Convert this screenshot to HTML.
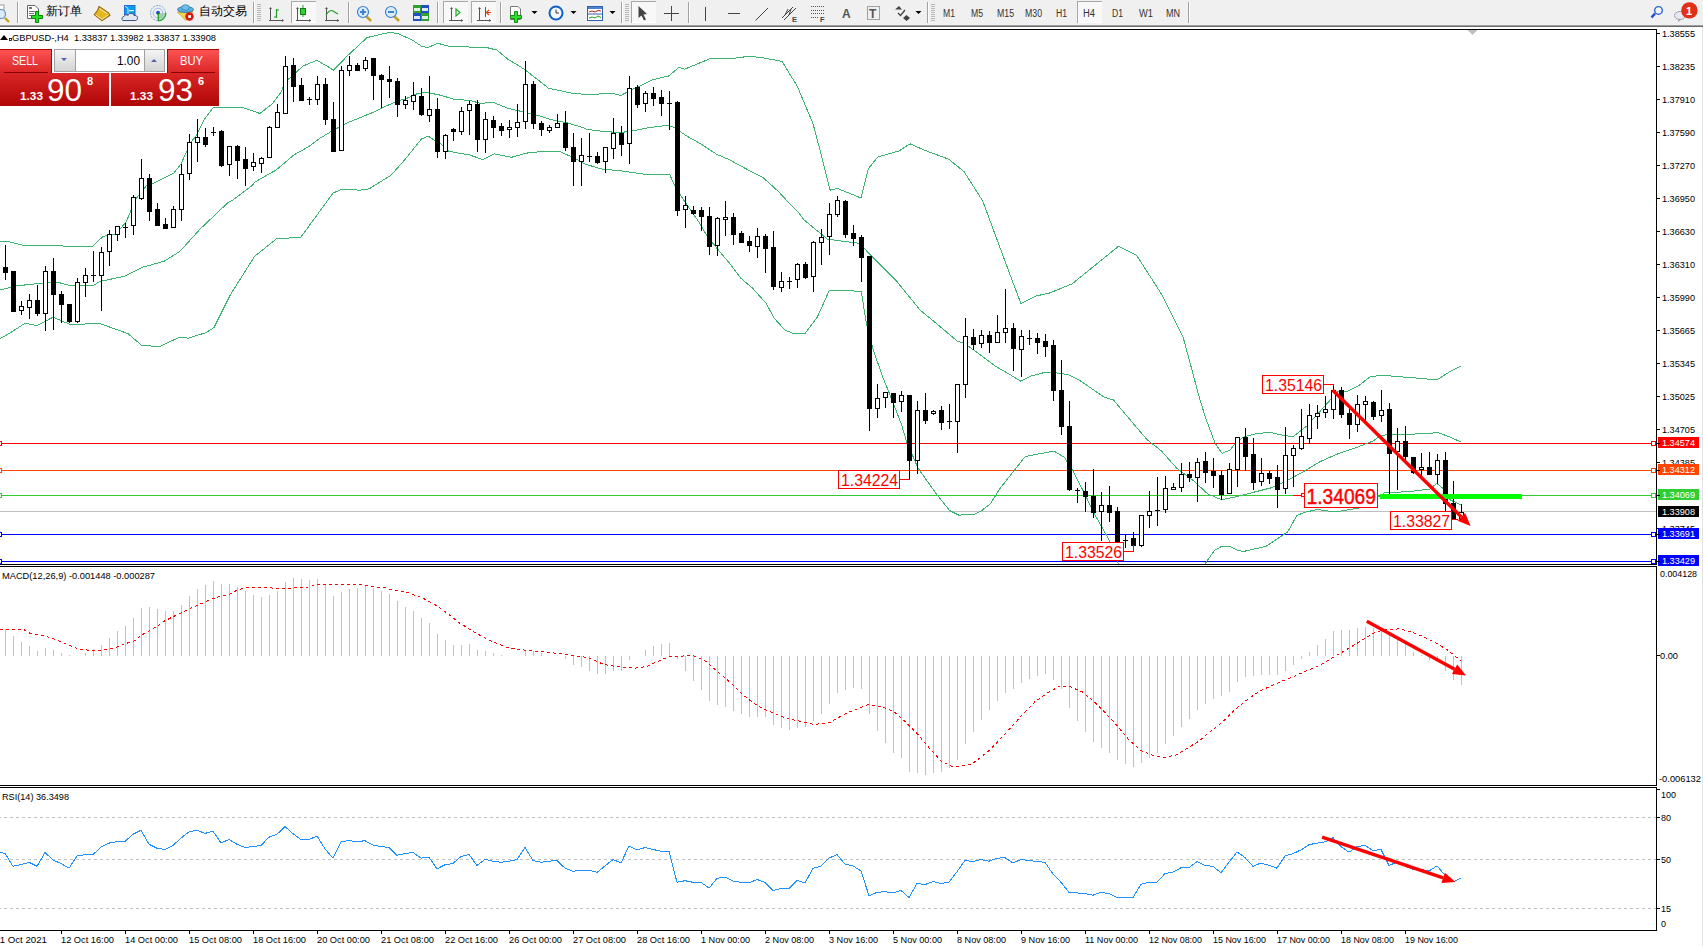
<!DOCTYPE html><html><head><meta charset="utf-8"><style>html,body{margin:0;padding:0;background:#fff;overflow:hidden}body{width:1703px;height:946px;position:relative}svg{position:absolute;left:0;top:0;display:block}text{font-family:"Liberation Sans", sans-serif}</style></head><body>
<svg width="1703" height="946" viewBox="0 0 1703 946">
<rect x="0" y="0" width="1703" height="946" fill="#ffffff" />
<g id="toolbar">
<rect x="0" y="0" width="1703" height="25" fill="#f0f0f0" />
<rect x="0" y="25" width="1703" height="1" fill="#a0a0a0" />
<rect x="0" y="26" width="1703" height="1" fill="#696969" />
<rect x="1702" y="27" width="1" height="919" fill="#e3e3e3" />
<rect x="-3" y="5" width="7" height="13" fill="#fff" stroke="#a09890" stroke-width="1"/>
<circle cx="1" cy="14" r="4.5" fill="#dcecf8" stroke="#6090d0" stroke-width="1.2"/>
<line x1="5" y1="18" x2="9" y2="22" stroke="#c8a020" stroke-width="2.4"/>
<rect x="17" y="2" width="1" height="21" fill="#a0a0a0"/><rect x="18" y="2" width="1" height="21" fill="#ffffff"/>
<path d="M27.5,5.5 H35 L38.5,9 V18.5 H27.5 Z" fill="#fff" stroke="#666" stroke-width="1"/>
<rect x="29" y="7" width="3" height="2" fill="#777"/><rect x="29" y="11" width="6" height="1" fill="#777"/><rect x="29" y="13" width="5" height="1" fill="#777"/><rect x="29" y="15" width="3" height="1" fill="#777"/>
<path d="M35.5,11.5 H38.5 V15.5 H42.5 V18.5 H38.5 V22.5 H35.5 V18.5 H31.5 V15.5 H35.5 Z" fill="#22dd22" stroke="#008800" stroke-width="1"/>
<text x="46" y="15.3" font-size="11.8" fill="#000">新订单</text>
<path d="M99,6.5 L108.5,12.8 L110,15.3 L102,20.6 L94.3,14.7 L97.5,10.5 Z" fill="#e5b820" stroke="#9a6410" stroke-width="1.1"/>
<path d="M95.5,14.8 L102,19.2 L108.5,14.8" fill="none" stroke="#f8e8a0" stroke-width="1"/>
<path d="M99.5,8.5 L107,13.5" fill="none" stroke="#fff6b0" stroke-width="1"/>
<rect x="124.5" y="5.5" width="10.5" height="9" fill="#0a9cf0" stroke="#2070d0" stroke-width="1"/>
<path d="M125,6 L128,8.5 V14" fill="none" stroke="#e8f6ff" stroke-width="0.9"/><rect x="129" y="10" width="5" height="1.2" fill="#e8f6ff"/>
<path d="M123,20.5 C121.5,20.5 121.5,16.5 124,16.5 C124.5,14.5 127,14 128,15.5 C129,12.5 133,12.5 134,15.5 C137,15 138.5,17.5 137,19.5 C136.5,20.5 136,20.5 135,20.5 Z" fill="#e4e8f0" stroke="#3a5088" stroke-width="1"/>
<path d="M158,13 L158,21 A8,8 0 0,0 166,13 Z" fill="#a8d8a0"/>
<circle cx="158" cy="13" r="7.5" fill="none" stroke="#7aa0dc" stroke-width="1" stroke-dasharray="2,1"/>
<circle cx="158" cy="13" r="4.8" fill="none" stroke="#9ab8e4" stroke-width="1"/>
<path d="M166,13 A8,8 0 0,1 158,21" fill="none" stroke="#30a040" stroke-width="1.2"/>
<circle cx="158" cy="12.7" r="2" fill="#2050c8"/>
<line x1="158.3" y1="13" x2="158.3" y2="21" stroke="#20a020" stroke-width="1.3"/>
<path d="M177.5,12 L193,11.5 L186,20.5 Z" fill="#f0d848" stroke="#c09820" stroke-width="0.8"/>
<ellipse cx="185.5" cy="9.5" rx="8" ry="3" fill="#58b0e0" stroke="#2878a8" stroke-width="0.9"/>
<ellipse cx="185.5" cy="7.5" rx="3.8" ry="2.8" fill="#70c0ec" stroke="#2878a8" stroke-width="0.7"/>
<circle cx="189.5" cy="16.5" r="4.2" fill="#d81a10"/><rect x="188.2" y="15.2" width="2.8" height="2.8" fill="#fff"/>
<text x="199" y="15.3" font-size="11.8" fill="#000">自动交易</text>
<rect x="253" y="2" width="1" height="21" fill="#a0a0a0"/><rect x="254" y="2" width="1" height="21" fill="#ffffff"/>
<rect x="257" y="4" width="4" height="1" fill="#b8b8b8"/>
<rect x="257" y="6" width="4" height="1" fill="#b8b8b8"/>
<rect x="257" y="8" width="4" height="1" fill="#b8b8b8"/>
<rect x="257" y="10" width="4" height="1" fill="#b8b8b8"/>
<rect x="257" y="12" width="4" height="1" fill="#b8b8b8"/>
<rect x="257" y="14" width="4" height="1" fill="#b8b8b8"/>
<rect x="257" y="16" width="4" height="1" fill="#b8b8b8"/>
<rect x="257" y="18" width="4" height="1" fill="#b8b8b8"/>
<rect x="257" y="20" width="4" height="1" fill="#b8b8b8"/>
<g fill="none" stroke="#555" stroke-width="1"><path d="M270.5,8 V21 M269,20.5 H283"/></g>
<path d="M269,9 L270.5,7 L272,9 Z M282,19 L284,20.5 L282,22 Z" fill="#555"/>
<path d="M276.5,9 V18 M276.5,10 H279 M274,17 H276.5" fill="none" stroke="#20a020" stroke-width="1.2"/>
<rect x="291" y="1" width="25" height="22" fill="#f8f8f8"/>
<rect x="291" y="1" width="25" height="1" fill="#a8a8a8"/>
<rect x="291" y="1" width="1" height="22" fill="#a8a8a8"/>
<rect x="292" y="22" width="24" height="1" fill="#ffffff"/>
<path d="M297.5,8 V21 M296,20.5 H311" fill="none" stroke="#555" stroke-width="1"/>
<path d="M296,9 L297.5,7 L299,9 Z M309,19 L311,20.5 L309,22 Z" fill="#555"/>
<rect x="302.5" y="5" width="1" height="12" fill="#20a020"/><rect x="300.5" y="8.5" width="5" height="6" fill="#30d030" stroke="#108010" stroke-width="1"/>
<path d="M326.5,8 V21 M325,20.5 H339" fill="none" stroke="#555" stroke-width="1"/>
<path d="M325,9 L326.5,7 L328,9 Z M337,19 L339,20.5 L337,22 Z" fill="#555"/>
<path d="M326,15 Q330,9 333,11 T338,14" fill="none" stroke="#20a020" stroke-width="1.2"/>
<rect x="348" y="2" width="1" height="21" fill="#a0a0a0"/><rect x="349" y="2" width="1" height="21" fill="#ffffff"/>
<line x1="366" y1="16" x2="371" y2="21" stroke="#c8a020" stroke-width="2.5"/>
<circle cx="363" cy="12" r="5.5" fill="#d8ecfa" stroke="#3c80d0" stroke-width="1.2"/>
<rect x="360" y="11" width="6" height="2" fill="#3c80d0"/>
<rect x="362" y="9" width="2" height="6" fill="#3c80d0"/>
<line x1="394" y1="16" x2="399" y2="21" stroke="#c8a020" stroke-width="2.5"/>
<circle cx="391" cy="12" r="5.5" fill="#d8ecfa" stroke="#3c80d0" stroke-width="1.2"/>
<rect x="388" y="11" width="6" height="2" fill="#3c80d0"/>
<rect x="413" y="5" width="8" height="8" fill="#30a030"/><rect x="421" y="5" width="8" height="8" fill="#2050c0"/><rect x="413" y="13" width="8" height="8" fill="#2050c0"/><rect x="421" y="13" width="8" height="8" fill="#30a030"/>
<rect x="414" y="8" width="6" height="3" fill="#e0f0e0"/><rect x="422" y="8" width="6" height="3" fill="#e0e8f8"/><rect x="414" y="16" width="6" height="3" fill="#e0e8f8"/><rect x="422" y="16" width="6" height="3" fill="#e0f0e0"/>
<rect x="437" y="2" width="1" height="21" fill="#a0a0a0"/><rect x="438" y="2" width="1" height="21" fill="#ffffff"/>
<rect x="443" y="1" width="25" height="22" fill="#f8f8f8"/>
<rect x="443" y="1" width="25" height="1" fill="#a8a8a8"/>
<rect x="443" y="1" width="1" height="22" fill="#a8a8a8"/>
<rect x="444" y="22" width="24" height="1" fill="#ffffff"/>
<path d="M451.5,8 V21 M449,20.5 H463" fill="none" stroke="#555" stroke-width="1"/><path d="M450,9 L451.5,7 L453,9 Z M461,19 L463,20.5 L461,22 Z" fill="#555"/>
<path d="M456,9 L460,12.5 L456,16 Z" fill="none" stroke="#20b020" stroke-width="1.2"/>
<rect x="471" y="1" width="25" height="22" fill="#f8f8f8"/>
<rect x="471" y="1" width="25" height="1" fill="#a8a8a8"/>
<rect x="471" y="1" width="1" height="22" fill="#a8a8a8"/>
<rect x="472" y="22" width="24" height="1" fill="#ffffff"/>
<path d="M479.5,8 V21 M477,20.5 H491" fill="none" stroke="#555" stroke-width="1"/><path d="M478,9 L479.5,7 L481,9 Z M489,19 L491,20.5 L489,22 Z" fill="#555"/>
<rect x="485" y="7" width="1" height="10" fill="#2060c0"/><path d="M491,12.5 H486.5 M489,10 L486.5,12.5 L489,15" fill="none" stroke="#e04010" stroke-width="1.2"/>
<rect x="500" y="2" width="1" height="21" fill="#a0a0a0"/><rect x="501" y="2" width="1" height="21" fill="#ffffff"/>
<path d="M510.5,6.5 H518 L520.5,9 V19.5 H510.5 Z" fill="#fff" stroke="#777" stroke-width="1"/>
<path d="M514.5,11.5 H517.5 V15.5 H521.5 V18.5 H517.5 V22.5 H514.5 V18.5 H510.5 V15.5 H514.5 Z" fill="#30e030" stroke="#109010" stroke-width="1"/>
<polygon points="531.5,11 537.5,11 534.5,14" fill="#000"/>
<circle cx="556" cy="13" r="7.5" fill="#1060c8"/><circle cx="556" cy="13" r="5.5" fill="#f4f8fc"/><path d="M556,9.5 V13 H559" fill="none" stroke="#333" stroke-width="1"/>
<polygon points="570.5,11 576.5,11 573.5,14" fill="#000"/>
<rect x="587.5" y="6.5" width="15" height="14" fill="#fff" stroke="#3060b0" stroke-width="1"/><rect x="588" y="7" width="14" height="2" fill="#5080d0"/><rect x="588" y="13.5" width="14" height="1" fill="#3060b0"/>
<path d="M589,12 L592,11 L595,12 L598,10.5 L601,11" fill="none" stroke="#b02020" stroke-width="1"/><path d="M589,18 L592,17 L595,18 L598,16 L601,17.5" fill="none" stroke="#20a020" stroke-width="1"/>
<polygon points="609.5,11 615.5,11 612.5,14" fill="#000"/>
<rect x="621" y="2" width="1" height="21" fill="#a0a0a0"/><rect x="622" y="2" width="1" height="21" fill="#ffffff"/>
<rect x="625" y="4" width="4" height="1" fill="#b8b8b8"/>
<rect x="625" y="6" width="4" height="1" fill="#b8b8b8"/>
<rect x="625" y="8" width="4" height="1" fill="#b8b8b8"/>
<rect x="625" y="10" width="4" height="1" fill="#b8b8b8"/>
<rect x="625" y="12" width="4" height="1" fill="#b8b8b8"/>
<rect x="625" y="14" width="4" height="1" fill="#b8b8b8"/>
<rect x="625" y="16" width="4" height="1" fill="#b8b8b8"/>
<rect x="625" y="18" width="4" height="1" fill="#b8b8b8"/>
<rect x="625" y="20" width="4" height="1" fill="#b8b8b8"/>
<rect x="631" y="1" width="25" height="22" fill="#f8f8f8"/>
<rect x="631" y="1" width="25" height="1" fill="#a8a8a8"/>
<rect x="631" y="1" width="1" height="22" fill="#a8a8a8"/>
<rect x="632" y="22" width="24" height="1" fill="#ffffff"/>
<path d="M638.5,6 L638.5,18 L641.5,15.5 L644,20.5 L646,19.5 L643.5,14.5 L647,14 Z" fill="#444"/>
<path d="M664,13.5 H679 M671.5,6 V21" fill="none" stroke="#444" stroke-width="1"/>
<rect x="688" y="2" width="1" height="21" fill="#a0a0a0"/><rect x="689" y="2" width="1" height="21" fill="#ffffff"/>
<rect x="705" y="7" width="1" height="14" fill="#444"/>
<rect x="728" y="13" width="12" height="1" fill="#444"/>
<line x1="755.5" y1="20.5" x2="768" y2="8" stroke="#444" stroke-width="1"/>
<path d="M782,18 L793,7 M784,20 L796,8 M785,15 L788,9 M789,15 L791,9" fill="none" stroke="#444" stroke-width="1"/>
<text x="792" y="22" font-size="7.5" font-weight="bold" fill="#444">E</text>
<path d="M811,6.5 H824 M811,10.5 H824 M811,13.5 H824 M811,17.5 H819" fill="none" stroke="#555" stroke-width="1" stroke-dasharray="1,1"/>
<text x="820" y="22" font-size="7.5" font-weight="bold" fill="#444">F</text>
<text x="842" y="18" font-size="12" font-weight="bold" fill="#555">A</text>
<rect x="867.5" y="6.5" width="12" height="13" fill="none" stroke="#555" stroke-width="1" stroke-dasharray="1,1"/>
<text x="869" y="18" font-size="12" font-weight="bold" fill="#555">T</text>
<path d="M895,9.5 L899,6 L902,9.5 Z M903,18 L906.5,15 L910,18 L906.5,21 Z" fill="#444"/><path d="M898,13 L900.5,15.5 L905,10" fill="none" stroke="#444" stroke-width="1.3"/>
<polygon points="915.5,11 921.5,11 918.5,14" fill="#000"/>
<rect x="927" y="2" width="1" height="21" fill="#a0a0a0"/><rect x="928" y="2" width="1" height="21" fill="#ffffff"/>
<rect x="931" y="4" width="4" height="1" fill="#b8b8b8"/>
<rect x="931" y="6" width="4" height="1" fill="#b8b8b8"/>
<rect x="931" y="8" width="4" height="1" fill="#b8b8b8"/>
<rect x="931" y="10" width="4" height="1" fill="#b8b8b8"/>
<rect x="931" y="12" width="4" height="1" fill="#b8b8b8"/>
<rect x="931" y="14" width="4" height="1" fill="#b8b8b8"/>
<rect x="931" y="16" width="4" height="1" fill="#b8b8b8"/>
<rect x="931" y="18" width="4" height="1" fill="#b8b8b8"/>
<rect x="931" y="20" width="4" height="1" fill="#b8b8b8"/>
<rect x="1077" y="1" width="25" height="22" fill="#f8f8f8"/>
<rect x="1077" y="1" width="25" height="1" fill="#a8a8a8"/>
<rect x="1077" y="1" width="1" height="22" fill="#a8a8a8"/>
<rect x="1078" y="22" width="24" height="1" fill="#ffffff"/>
<text x="943" y="17" font-size="10" fill="#333" textLength="12" lengthAdjust="spacingAndGlyphs">M1</text>
<text x="971" y="17" font-size="10" fill="#333" textLength="12" lengthAdjust="spacingAndGlyphs">M5</text>
<text x="997" y="17" font-size="10" fill="#333" textLength="17" lengthAdjust="spacingAndGlyphs">M15</text>
<text x="1025" y="17" font-size="10" fill="#333" textLength="17" lengthAdjust="spacingAndGlyphs">M30</text>
<text x="1056" y="17" font-size="10" fill="#333" textLength="11" lengthAdjust="spacingAndGlyphs">H1</text>
<text x="1083" y="17" font-size="10" fill="#333" textLength="12" lengthAdjust="spacingAndGlyphs">H4</text>
<text x="1112" y="17" font-size="10" fill="#333" textLength="11" lengthAdjust="spacingAndGlyphs">D1</text>
<text x="1139" y="17" font-size="10" fill="#333" textLength="14" lengthAdjust="spacingAndGlyphs">W1</text>
<text x="1166" y="17" font-size="10" fill="#333" textLength="14" lengthAdjust="spacingAndGlyphs">MN</text>
<rect x="1188" y="2" width="1" height="21" fill="#a0a0a0"/><rect x="1189" y="2" width="1" height="21" fill="#ffffff"/>
<line x1="1655" y1="13.5" x2="1651.5" y2="17.5" stroke="#2050d0" stroke-width="2.5"/>
<circle cx="1658.5" cy="10.4" r="3.8" fill="#f4f6ff" stroke="#2860d8" stroke-width="1.4"/>
<ellipse cx="1680" cy="15.5" rx="5.5" ry="4" fill="#e8e8f0" stroke="#a0a0a8" stroke-width="1"/><path d="M1678,19 L1678.5,22 L1681,19.5" fill="#a0a0a8"/>
<circle cx="1689.4" cy="10.4" r="8.2" fill="#e03018"/>
<text x="1689" y="15" font-size="11" font-weight="bold" fill="#fff" text-anchor="middle">1</text>
</g>
<g shape-rendering="crispEdges">
<rect x="0" y="29" width="1657" height="1" fill="#000" />
<rect x="1656" y="29" width="1" height="536" fill="#000" />
<rect x="0" y="564" width="1657" height="1" fill="#000" />
<rect x="0" y="566" width="1657" height="1" fill="#000" />
<rect x="1656" y="566" width="1" height="220" fill="#000" />
<rect x="0" y="785" width="1657" height="1" fill="#000" />
<rect x="0" y="787" width="1657" height="1" fill="#000" />
<rect x="1656" y="787" width="1" height="144" fill="#000" />
<rect x="0" y="930" width="1657" height="1" fill="#000" />
</g>
<defs><clipPath id="cm"><rect x="0" y="30" width="1656" height="534"/></clipPath><clipPath id="cmacd"><rect x="0" y="567" width="1656" height="218"/></clipPath><clipPath id="crsi"><rect x="0" y="788" width="1656" height="142"/></clipPath></defs>
<rect x="1657" y="33" width="3" height="1" fill="#000" />
<text x="1662" y="37" font-size="9.6" fill="#000" text-anchor="start" font-weight="normal" textLength="33" lengthAdjust="spacingAndGlyphs" >1.38555</text>
<rect x="1657" y="66" width="3" height="1" fill="#000" />
<text x="1662" y="70" font-size="9.6" fill="#000" text-anchor="start" font-weight="normal" textLength="33" lengthAdjust="spacingAndGlyphs" >1.38235</text>
<rect x="1657" y="99" width="3" height="1" fill="#000" />
<text x="1662" y="103" font-size="9.6" fill="#000" text-anchor="start" font-weight="normal" textLength="33" lengthAdjust="spacingAndGlyphs" >1.37910</text>
<rect x="1657" y="132" width="3" height="1" fill="#000" />
<text x="1662" y="136" font-size="9.6" fill="#000" text-anchor="start" font-weight="normal" textLength="33" lengthAdjust="spacingAndGlyphs" >1.37590</text>
<rect x="1657" y="165" width="3" height="1" fill="#000" />
<text x="1662" y="169" font-size="9.6" fill="#000" text-anchor="start" font-weight="normal" textLength="33" lengthAdjust="spacingAndGlyphs" >1.37270</text>
<rect x="1657" y="198" width="3" height="1" fill="#000" />
<text x="1662" y="202" font-size="9.6" fill="#000" text-anchor="start" font-weight="normal" textLength="33" lengthAdjust="spacingAndGlyphs" >1.36950</text>
<rect x="1657" y="231" width="3" height="1" fill="#000" />
<text x="1662" y="235" font-size="9.6" fill="#000" text-anchor="start" font-weight="normal" textLength="33" lengthAdjust="spacingAndGlyphs" >1.36630</text>
<rect x="1657" y="264" width="3" height="1" fill="#000" />
<text x="1662" y="268" font-size="9.6" fill="#000" text-anchor="start" font-weight="normal" textLength="33" lengthAdjust="spacingAndGlyphs" >1.36310</text>
<rect x="1657" y="297" width="3" height="1" fill="#000" />
<text x="1662" y="301" font-size="9.6" fill="#000" text-anchor="start" font-weight="normal" textLength="33" lengthAdjust="spacingAndGlyphs" >1.35990</text>
<rect x="1657" y="330" width="3" height="1" fill="#000" />
<text x="1662" y="334" font-size="9.6" fill="#000" text-anchor="start" font-weight="normal" textLength="33" lengthAdjust="spacingAndGlyphs" >1.35665</text>
<rect x="1657" y="363" width="3" height="1" fill="#000" />
<text x="1662" y="367" font-size="9.6" fill="#000" text-anchor="start" font-weight="normal" textLength="33" lengthAdjust="spacingAndGlyphs" >1.35345</text>
<rect x="1657" y="396" width="3" height="1" fill="#000" />
<text x="1662" y="400" font-size="9.6" fill="#000" text-anchor="start" font-weight="normal" textLength="33" lengthAdjust="spacingAndGlyphs" >1.35025</text>
<rect x="1657" y="429" width="3" height="1" fill="#000" />
<text x="1662" y="433" font-size="9.6" fill="#000" text-anchor="start" font-weight="normal" textLength="33" lengthAdjust="spacingAndGlyphs" >1.34705</text>
<rect x="1657" y="462" width="3" height="1" fill="#000" />
<text x="1662" y="466" font-size="9.6" fill="#000" text-anchor="start" font-weight="normal" textLength="33" lengthAdjust="spacingAndGlyphs" >1.34385</text>
<rect x="1657" y="495" width="3" height="1" fill="#000" />
<text x="1662" y="499" font-size="9.6" fill="#000" text-anchor="start" font-weight="normal" textLength="33" lengthAdjust="spacingAndGlyphs" >1.34065</text>
<rect x="1657" y="528" width="3" height="1" fill="#000" />
<text x="1662" y="532" font-size="9.6" fill="#000" text-anchor="start" font-weight="normal" textLength="33" lengthAdjust="spacingAndGlyphs" >1.33745</text>
<rect x="1657" y="561" width="3" height="1" fill="#000" />
<text x="1662" y="565" font-size="9.6" fill="#000" text-anchor="start" font-weight="normal" textLength="33" lengthAdjust="spacingAndGlyphs" >1.33425</text>
<g clip-path="url(#cm)">
<g shape-rendering="crispEdges">
<rect x="0" y="511" width="1656" height="1" fill="#c0c0c0" />
<rect x="0" y="443" width="1656" height="1" fill="#ff0000" />
<rect x="0" y="470" width="1656" height="1" fill="#ff4500" />
<rect x="0" y="495" width="1656" height="1" fill="#32cd32" />
<rect x="0" y="534" width="1656" height="1" fill="#0000ff" />
<rect x="0" y="561" width="1656" height="1" fill="#0000ff" />
</g>
<polyline points="0.0,241.0 8.0,241.5 26.0,246.0 50.0,245.0 75.0,247.0 93.0,246.0 103.0,236.4 116.0,234.0 126.0,222.0 130.0,213.0 135.0,200.0 147.0,185.0 154.0,183.0 174.0,173.0 177.0,169.0 181.0,164.0 191.0,142.0 196.0,136.0 204.0,120.0 213.0,107.7 233.0,107.6 240.0,107.0 245.0,108.4 260.0,113.5 272.0,104.0 281.0,92.4 285.0,82.0 291.0,77.0 303.0,66.0 317.0,60.3 328.0,66.7 333.5,70.2 347.0,56.2 367.0,37.6 377.5,35.1 389.0,32.5 398.0,33.4 400.0,34.5 413.0,40.4 421.6,46.3 428.0,47.6 437.7,43.3 450.7,46.6 486.0,47.4 497.0,50.1 508.0,59.3 524.0,69.0 548.8,88.4 559.6,90.6 572.7,93.3 588.0,94.6 611.6,93.3 621.0,95.5 630.0,90.4 640.0,86.0 652.0,79.9 669.0,75.9 678.6,67.5 684.8,69.1 711.0,58.3 729.5,58.9 748.0,56.4 760.0,57.3 782.0,61.3 797.5,86.7 813.0,123.7 822.0,157.7 830.0,190.1 837.6,188.5 861.0,198.0 868.5,168.5 877.7,157.0 899.0,150.9 910.0,143.8 924.0,150.0 948.7,159.2 964.0,171.6 982.7,200.9 1001.0,250.3 1012.0,280.0 1021.0,303.7 1036.0,296.0 1050.0,292.9 1072.0,283.9 1118.6,246.2 1136.6,255.2 1161.8,294.7 1183.3,337.8 1200.0,400.0 1206.0,419.0 1215.0,443.0 1222.0,453.3 1230.0,450.1 1236.5,441.9 1244.0,436.8 1257.0,433.6 1269.5,432.3 1280.0,434.6 1293.0,436.8 1307.0,425.8 1337.5,392.0 1347.6,391.1 1359.4,385.2 1369.6,377.1 1381.4,375.1 1400.0,376.8 1410.0,377.4 1436.8,380.0 1449.3,372.0 1461.0,365.9" fill="none" stroke="#3cb371" stroke-width="1" shape-rendering="crispEdges"/>
<polyline points="0.0,290.0 17.0,285.8 50.0,282.3 58.0,282.3 70.0,285.6 93.0,285.6 100.0,281.4 124.0,276.4 142.0,267.4 164.0,261.3 180.0,251.3 200.0,229.2 228.5,202.1 233.0,199.9 252.6,185.1 255.0,182.0 276.0,170.1 294.0,154.9 309.0,146.5 320.0,138.2 330.0,132.2 345.0,123.8 372.0,112.8 386.0,106.0 400.0,100.3 404.5,99.3 418.0,93.4 427.0,92.5 440.0,95.1 454.0,99.2 470.0,100.5 481.0,103.5 492.8,102.2 508.0,108.3 522.0,111.6 540.0,115.9 551.0,119.7 566.0,122.5 580.0,126.7 588.0,129.6 603.0,131.3 620.0,132.7 633.6,130.6 648.8,127.6 667.8,125.3 674.6,127.7 686.4,135.8 700.0,143.4 716.8,154.4 728.7,159.4 749.0,170.4 762.5,177.2 778.0,191.1 792.0,206.2 800.0,214.3 803.8,219.7 827.5,239.2 842.7,241.2 859.6,243.4 871.4,256.0 896.8,281.4 912.0,300.0 920.0,310.0 940.5,326.9 957.4,341.3 964.0,343.0 974.0,350.2 995.5,366.2 1007.3,373.0 1020.8,381.1 1031.0,376.0 1046.0,372.1 1054.6,372.6 1068.0,374.6 1080.0,380.6 1104.0,397.1 1113.5,400.0 1132.0,422.0 1147.4,440.0 1161.1,450.6 1177.0,468.5 1192.9,480.2 1207.7,493.9 1221.4,499.7 1235.1,497.1 1251.0,492.9 1272.1,487.6 1288.0,480.2 1307.0,469.6 1320.0,461.7 1336.0,454.5 1356.0,447.7 1373.0,441.0 1381.4,435.1 1389.5,434.9 1410.0,434.1 1430.0,433.7 1436.8,432.1 1448.7,436.6 1460.5,441.7" fill="none" stroke="#3cb371" stroke-width="1" shape-rendering="crispEdges"/>
<polyline points="0.0,338.7 10.0,333.0 25.0,323.3 37.0,325.6 53.0,317.2 70.0,324.4 100.0,323.6 128.0,333.6 142.0,345.7 160.0,346.3 180.0,337.0 188.0,338.2 206.0,332.6 214.0,327.6 230.5,294.5 254.6,256.3 276.7,238.7 300.8,237.3 333.0,193.1 341.0,189.5 360.0,190.1 369.0,188.9 375.8,184.6 391.0,175.3 404.5,160.1 421.4,139.0 428.2,136.1 432.0,138.7 440.0,143.2 449.0,151.4 469.0,154.8 482.7,159.5 494.5,153.9 511.4,157.3 526.6,153.1 544.0,151.3 559.0,151.3 572.7,157.2 584.6,163.9 601.5,169.0 620.0,170.7 643.7,174.1 669.5,174.1 674.6,185.6 681.4,196.6 700.0,223.7 707.0,235.9 720.6,252.8 730.7,264.6 740.8,278.2 752.7,288.3 766.2,303.5 774.6,318.7 784.8,329.9 792.0,333.0 805.5,333.0 817.4,316.9 829.2,290.7 842.7,290.2 861.3,291.5 866.4,323.7 872.9,348.9 883.0,377.6 893.2,403.0 901.6,424.9 906.6,441.6 918.0,468.2 937.0,494.8 949.8,510.7 958.7,515.1 973.9,514.5 981.5,510.7 990.4,503.7 1000.0,488.5 1025.2,456.5 1053.9,451.1 1064.5,457.5 1072.9,471.0 1084.7,493.8 1094.9,514.9 1100.5,524.7 1110.0,541.7 1118.1,563.4 1125.0,580.0 1160.0,600.0 1200.0,590.0 1205.0,564.0 1214.4,550.5 1221.5,546.4 1229.7,546.4 1237.9,550.5 1243.8,551.4 1266.0,546.3 1287.6,532.0 1297.0,515.3 1305.5,512.2 1317.2,509.4 1334.0,512.0 1345.0,510.4 1361.0,507.7 1384.5,492.9 1409.8,491.5 1430.0,489.0 1436.8,483.4 1443.6,489.0 1450.4,500.0 1461.0,505.0" fill="none" stroke="#3cb371" stroke-width="1" shape-rendering="crispEdges"/>
<g shape-rendering="crispEdges">
<rect x="5" y="245" width="1" height="35" fill="#000" />
<rect x="3" y="267" width="5" height="6" fill="#000" />
<rect x="13" y="271" width="1" height="41" fill="#000" />
<rect x="11" y="271" width="5" height="41" fill="#000" />
<rect x="21" y="301" width="1" height="14" fill="#000" />
<rect x="19" y="306" width="5" height="5" fill="#000" />
<rect x="20" y="307" width="3" height="3" fill="#fff" />
<rect x="29" y="294" width="1" height="25" fill="#000" />
<rect x="27" y="300" width="5" height="8" fill="#000" />
<rect x="28" y="301" width="3" height="6" fill="#fff" />
<rect x="37" y="285" width="1" height="31" fill="#000" />
<rect x="35" y="300" width="5" height="14" fill="#000" />
<rect x="45" y="266" width="1" height="65" fill="#000" />
<rect x="43" y="271" width="5" height="43" fill="#000" />
<rect x="44" y="272" width="3" height="41" fill="#fff" />
<rect x="53" y="258" width="1" height="72" fill="#000" />
<rect x="51" y="271" width="5" height="24" fill="#000" />
<rect x="61" y="291" width="1" height="32" fill="#000" />
<rect x="59" y="294" width="5" height="11" fill="#000" />
<rect x="69" y="304" width="1" height="19" fill="#000" />
<rect x="67" y="304" width="5" height="18" fill="#000" />
<rect x="77" y="278" width="1" height="45" fill="#000" />
<rect x="75" y="282" width="5" height="40" fill="#000" />
<rect x="76" y="283" width="3" height="38" fill="#fff" />
<rect x="85" y="268" width="1" height="29" fill="#000" />
<rect x="83" y="275" width="5" height="8" fill="#000" />
<rect x="84" y="276" width="3" height="6" fill="#fff" />
<rect x="93" y="251" width="1" height="31" fill="#000" />
<rect x="91" y="275" width="5" height="1" fill="#000" />
<rect x="101" y="247" width="1" height="64" fill="#000" />
<rect x="99" y="252" width="5" height="24" fill="#000" />
<rect x="100" y="253" width="3" height="22" fill="#fff" />
<rect x="109" y="230" width="1" height="36" fill="#000" />
<rect x="107" y="234" width="5" height="18" fill="#000" />
<rect x="108" y="235" width="3" height="16" fill="#fff" />
<rect x="117" y="226" width="1" height="15" fill="#000" />
<rect x="115" y="226" width="5" height="9" fill="#000" />
<rect x="116" y="227" width="3" height="7" fill="#fff" />
<rect x="125" y="223" width="1" height="15" fill="#000" />
<rect x="123" y="227" width="5" height="1" fill="#000" />
<rect x="133" y="195" width="1" height="40" fill="#000" />
<rect x="131" y="197" width="5" height="29" fill="#000" />
<rect x="132" y="198" width="3" height="27" fill="#fff" />
<rect x="141" y="159" width="1" height="41" fill="#000" />
<rect x="139" y="178" width="5" height="21" fill="#000" />
<rect x="140" y="179" width="3" height="19" fill="#fff" />
<rect x="149" y="174" width="1" height="47" fill="#000" />
<rect x="147" y="178" width="5" height="34" fill="#000" />
<rect x="157" y="203" width="1" height="23" fill="#000" />
<rect x="155" y="209" width="5" height="17" fill="#000" />
<rect x="165" y="218" width="1" height="11" fill="#000" />
<rect x="163" y="224" width="5" height="5" fill="#000" />
<rect x="173" y="206" width="1" height="22" fill="#000" />
<rect x="171" y="209" width="5" height="19" fill="#000" />
<rect x="172" y="210" width="3" height="17" fill="#fff" />
<rect x="181" y="164" width="1" height="57" fill="#000" />
<rect x="179" y="174" width="5" height="36" fill="#000" />
<rect x="180" y="175" width="3" height="34" fill="#fff" />
<rect x="189" y="134" width="1" height="46" fill="#000" />
<rect x="187" y="142" width="5" height="32" fill="#000" />
<rect x="188" y="143" width="3" height="30" fill="#fff" />
<rect x="197" y="119" width="1" height="43" fill="#000" />
<rect x="195" y="137" width="5" height="6" fill="#000" />
<rect x="196" y="138" width="3" height="4" fill="#fff" />
<rect x="205" y="128" width="1" height="19" fill="#000" />
<rect x="203" y="137" width="5" height="8" fill="#000" />
<rect x="213" y="127" width="1" height="9" fill="#000" />
<rect x="211" y="132" width="5" height="1" fill="#000" />
<rect x="221" y="130" width="1" height="37" fill="#000" />
<rect x="219" y="131" width="5" height="35" fill="#000" />
<rect x="229" y="146" width="1" height="30" fill="#000" />
<rect x="227" y="146" width="5" height="19" fill="#000" />
<rect x="228" y="147" width="3" height="17" fill="#fff" />
<rect x="237" y="145" width="1" height="34" fill="#000" />
<rect x="235" y="146" width="5" height="15" fill="#000" />
<rect x="245" y="147" width="1" height="39" fill="#000" />
<rect x="243" y="159" width="5" height="10" fill="#000" />
<rect x="253" y="153" width="1" height="18" fill="#000" />
<rect x="251" y="162" width="5" height="5" fill="#000" />
<rect x="252" y="163" width="3" height="3" fill="#fff" />
<rect x="261" y="157" width="1" height="16" fill="#000" />
<rect x="259" y="158" width="5" height="6" fill="#000" />
<rect x="260" y="159" width="3" height="4" fill="#fff" />
<rect x="269" y="126" width="1" height="32" fill="#000" />
<rect x="267" y="127" width="5" height="31" fill="#000" />
<rect x="268" y="128" width="3" height="29" fill="#fff" />
<rect x="277" y="104" width="1" height="24" fill="#000" />
<rect x="275" y="112" width="5" height="16" fill="#000" />
<rect x="276" y="113" width="3" height="14" fill="#fff" />
<rect x="285" y="56" width="1" height="58" fill="#000" />
<rect x="283" y="66" width="5" height="48" fill="#000" />
<rect x="284" y="67" width="3" height="46" fill="#fff" />
<rect x="293" y="58" width="1" height="44" fill="#000" />
<rect x="291" y="65" width="5" height="22" fill="#000" />
<rect x="301" y="78" width="1" height="23" fill="#000" />
<rect x="299" y="85" width="5" height="16" fill="#000" />
<rect x="309" y="97" width="1" height="8" fill="#000" />
<rect x="307" y="99" width="5" height="1" fill="#000" />
<rect x="317" y="76" width="1" height="29" fill="#000" />
<rect x="315" y="84" width="5" height="16" fill="#000" />
<rect x="316" y="85" width="3" height="14" fill="#fff" />
<rect x="325" y="78" width="1" height="47" fill="#000" />
<rect x="323" y="84" width="5" height="36" fill="#000" />
<rect x="333" y="102" width="1" height="50" fill="#000" />
<rect x="331" y="119" width="5" height="33" fill="#000" />
<rect x="341" y="66" width="1" height="85" fill="#000" />
<rect x="339" y="70" width="5" height="81" fill="#000" />
<rect x="340" y="71" width="3" height="79" fill="#fff" />
<rect x="349" y="56" width="1" height="20" fill="#000" />
<rect x="347" y="65" width="5" height="6" fill="#000" />
<rect x="348" y="66" width="3" height="4" fill="#fff" />
<rect x="357" y="63" width="1" height="8" fill="#000" />
<rect x="355" y="65" width="5" height="6" fill="#000" />
<rect x="365" y="57" width="1" height="14" fill="#000" />
<rect x="363" y="60" width="5" height="9" fill="#000" />
<rect x="364" y="61" width="3" height="7" fill="#fff" />
<rect x="373" y="58" width="1" height="42" fill="#000" />
<rect x="371" y="58" width="5" height="18" fill="#000" />
<rect x="381" y="74" width="1" height="34" fill="#000" />
<rect x="379" y="75" width="5" height="5" fill="#000" />
<rect x="389" y="66" width="1" height="32" fill="#000" />
<rect x="387" y="79" width="5" height="3" fill="#000" />
<rect x="397" y="78" width="1" height="39" fill="#000" />
<rect x="395" y="81" width="5" height="24" fill="#000" />
<rect x="405" y="96" width="1" height="13" fill="#000" />
<rect x="403" y="100" width="5" height="5" fill="#000" />
<rect x="404" y="101" width="3" height="3" fill="#fff" />
<rect x="413" y="82" width="1" height="28" fill="#000" />
<rect x="411" y="95" width="5" height="7" fill="#000" />
<rect x="412" y="96" width="3" height="5" fill="#fff" />
<rect x="421" y="88" width="1" height="28" fill="#000" />
<rect x="419" y="96" width="5" height="19" fill="#000" />
<rect x="429" y="76" width="1" height="46" fill="#000" />
<rect x="427" y="109" width="5" height="7" fill="#000" />
<rect x="428" y="110" width="3" height="5" fill="#fff" />
<rect x="437" y="98" width="1" height="60" fill="#000" />
<rect x="435" y="109" width="5" height="43" fill="#000" />
<rect x="445" y="134" width="1" height="25" fill="#000" />
<rect x="443" y="135" width="5" height="17" fill="#000" />
<rect x="444" y="136" width="3" height="15" fill="#fff" />
<rect x="453" y="128" width="1" height="13" fill="#000" />
<rect x="451" y="129" width="5" height="3" fill="#000" />
<rect x="461" y="107" width="1" height="28" fill="#000" />
<rect x="459" y="111" width="5" height="21" fill="#000" />
<rect x="460" y="112" width="3" height="19" fill="#fff" />
<rect x="469" y="101" width="1" height="34" fill="#000" />
<rect x="467" y="104" width="5" height="7" fill="#000" />
<rect x="468" y="105" width="3" height="5" fill="#fff" />
<rect x="477" y="100" width="1" height="52" fill="#000" />
<rect x="475" y="104" width="5" height="36" fill="#000" />
<rect x="485" y="112" width="1" height="41" fill="#000" />
<rect x="483" y="119" width="5" height="21" fill="#000" />
<rect x="484" y="120" width="3" height="19" fill="#fff" />
<rect x="493" y="116" width="1" height="22" fill="#000" />
<rect x="491" y="120" width="5" height="8" fill="#000" />
<rect x="501" y="123" width="1" height="13" fill="#000" />
<rect x="499" y="126" width="5" height="5" fill="#000" />
<rect x="509" y="120" width="1" height="18" fill="#000" />
<rect x="507" y="127" width="5" height="3" fill="#000" />
<rect x="508" y="128" width="3" height="1" fill="#fff" />
<rect x="517" y="104" width="1" height="33" fill="#000" />
<rect x="515" y="122" width="5" height="6" fill="#000" />
<rect x="516" y="123" width="3" height="4" fill="#fff" />
<rect x="525" y="61" width="1" height="68" fill="#000" />
<rect x="523" y="84" width="5" height="38" fill="#000" />
<rect x="524" y="85" width="3" height="36" fill="#fff" />
<rect x="533" y="81" width="1" height="48" fill="#000" />
<rect x="531" y="84" width="5" height="40" fill="#000" />
<rect x="541" y="121" width="1" height="15" fill="#000" />
<rect x="539" y="123" width="5" height="7" fill="#000" />
<rect x="549" y="125" width="1" height="8" fill="#000" />
<rect x="547" y="127" width="5" height="4" fill="#000" />
<rect x="548" y="128" width="3" height="2" fill="#fff" />
<rect x="557" y="114" width="1" height="14" fill="#000" />
<rect x="555" y="123" width="5" height="5" fill="#000" />
<rect x="556" y="124" width="3" height="3" fill="#fff" />
<rect x="565" y="111" width="1" height="40" fill="#000" />
<rect x="563" y="123" width="5" height="25" fill="#000" />
<rect x="573" y="133" width="1" height="53" fill="#000" />
<rect x="571" y="147" width="5" height="15" fill="#000" />
<rect x="581" y="138" width="1" height="48" fill="#000" />
<rect x="579" y="155" width="5" height="7" fill="#000" />
<rect x="580" y="156" width="3" height="5" fill="#fff" />
<rect x="589" y="133" width="1" height="29" fill="#000" />
<rect x="587" y="156" width="5" height="1" fill="#000" />
<rect x="597" y="152" width="1" height="12" fill="#000" />
<rect x="595" y="156" width="5" height="7" fill="#000" />
<rect x="605" y="147" width="1" height="26" fill="#000" />
<rect x="603" y="147" width="5" height="15" fill="#000" />
<rect x="604" y="148" width="3" height="13" fill="#fff" />
<rect x="613" y="118" width="1" height="41" fill="#000" />
<rect x="611" y="133" width="5" height="16" fill="#000" />
<rect x="612" y="134" width="3" height="14" fill="#fff" />
<rect x="621" y="126" width="1" height="30" fill="#000" />
<rect x="619" y="133" width="5" height="12" fill="#000" />
<rect x="629" y="76" width="1" height="88" fill="#000" />
<rect x="627" y="88" width="5" height="56" fill="#000" />
<rect x="628" y="89" width="3" height="54" fill="#fff" />
<rect x="637" y="85" width="1" height="23" fill="#000" />
<rect x="635" y="87" width="5" height="18" fill="#000" />
<rect x="645" y="91" width="1" height="21" fill="#000" />
<rect x="643" y="93" width="5" height="11" fill="#000" />
<rect x="644" y="94" width="3" height="9" fill="#fff" />
<rect x="653" y="87" width="1" height="19" fill="#000" />
<rect x="651" y="93" width="5" height="6" fill="#000" />
<rect x="661" y="90" width="1" height="26" fill="#000" />
<rect x="659" y="97" width="5" height="7" fill="#000" />
<rect x="669" y="91" width="1" height="39" fill="#000" />
<rect x="667" y="103" width="5" height="1" fill="#000" />
<rect x="677" y="101" width="1" height="115" fill="#000" />
<rect x="675" y="102" width="5" height="109" fill="#000" />
<rect x="685" y="196" width="1" height="32" fill="#000" />
<rect x="683" y="205" width="5" height="5" fill="#000" />
<rect x="684" y="206" width="3" height="3" fill="#fff" />
<rect x="693" y="206" width="1" height="9" fill="#000" />
<rect x="691" y="210" width="5" height="4" fill="#000" />
<rect x="701" y="207" width="1" height="24" fill="#000" />
<rect x="699" y="210" width="5" height="7" fill="#000" />
<rect x="709" y="207" width="1" height="48" fill="#000" />
<rect x="707" y="216" width="5" height="31" fill="#000" />
<rect x="717" y="217" width="1" height="39" fill="#000" />
<rect x="715" y="218" width="5" height="28" fill="#000" />
<rect x="716" y="219" width="3" height="26" fill="#fff" />
<rect x="725" y="201" width="1" height="35" fill="#000" />
<rect x="723" y="217" width="5" height="3" fill="#000" />
<rect x="724" y="218" width="3" height="1" fill="#fff" />
<rect x="733" y="213" width="1" height="32" fill="#000" />
<rect x="731" y="217" width="5" height="18" fill="#000" />
<rect x="741" y="231" width="1" height="12" fill="#000" />
<rect x="739" y="233" width="5" height="10" fill="#000" />
<rect x="749" y="236" width="1" height="16" fill="#000" />
<rect x="747" y="241" width="5" height="5" fill="#000" />
<rect x="757" y="228" width="1" height="30" fill="#000" />
<rect x="755" y="236" width="5" height="11" fill="#000" />
<rect x="756" y="237" width="3" height="9" fill="#fff" />
<rect x="765" y="234" width="1" height="39" fill="#000" />
<rect x="763" y="236" width="5" height="13" fill="#000" />
<rect x="773" y="231" width="1" height="59" fill="#000" />
<rect x="771" y="247" width="5" height="40" fill="#000" />
<rect x="781" y="272" width="1" height="20" fill="#000" />
<rect x="779" y="281" width="5" height="7" fill="#000" />
<rect x="780" y="282" width="3" height="5" fill="#fff" />
<rect x="789" y="277" width="1" height="12" fill="#000" />
<rect x="787" y="281" width="5" height="1" fill="#000" />
<rect x="797" y="263" width="1" height="25" fill="#000" />
<rect x="795" y="264" width="5" height="16" fill="#000" />
<rect x="796" y="265" width="3" height="14" fill="#fff" />
<rect x="805" y="262" width="1" height="17" fill="#000" />
<rect x="803" y="264" width="5" height="14" fill="#000" />
<rect x="813" y="241" width="1" height="51" fill="#000" />
<rect x="811" y="242" width="5" height="35" fill="#000" />
<rect x="812" y="243" width="3" height="33" fill="#fff" />
<rect x="821" y="229" width="1" height="36" fill="#000" />
<rect x="819" y="237" width="5" height="6" fill="#000" />
<rect x="820" y="238" width="3" height="4" fill="#fff" />
<rect x="829" y="203" width="1" height="52" fill="#000" />
<rect x="827" y="214" width="5" height="23" fill="#000" />
<rect x="828" y="215" width="3" height="21" fill="#fff" />
<rect x="837" y="196" width="1" height="21" fill="#000" />
<rect x="835" y="200" width="5" height="15" fill="#000" />
<rect x="836" y="201" width="3" height="13" fill="#fff" />
<rect x="845" y="200" width="1" height="38" fill="#000" />
<rect x="843" y="201" width="5" height="34" fill="#000" />
<rect x="853" y="225" width="1" height="21" fill="#000" />
<rect x="851" y="233" width="5" height="6" fill="#000" />
<rect x="861" y="235" width="1" height="47" fill="#000" />
<rect x="859" y="237" width="5" height="21" fill="#000" />
<rect x="869" y="256" width="1" height="175" fill="#000" />
<rect x="867" y="256" width="5" height="153" fill="#000" />
<rect x="877" y="384" width="1" height="34" fill="#000" />
<rect x="875" y="398" width="5" height="11" fill="#000" />
<rect x="876" y="399" width="3" height="9" fill="#fff" />
<rect x="885" y="392" width="1" height="16" fill="#000" />
<rect x="883" y="392" width="5" height="6" fill="#000" />
<rect x="884" y="393" width="3" height="4" fill="#fff" />
<rect x="893" y="393" width="1" height="25" fill="#000" />
<rect x="891" y="393" width="5" height="10" fill="#000" />
<rect x="901" y="391" width="1" height="21" fill="#000" />
<rect x="899" y="395" width="5" height="7" fill="#000" />
<rect x="900" y="396" width="3" height="5" fill="#fff" />
<rect x="909" y="395" width="1" height="85" fill="#000" />
<rect x="907" y="395" width="5" height="66" fill="#000" />
<rect x="917" y="401" width="1" height="73" fill="#000" />
<rect x="915" y="410" width="5" height="51" fill="#000" />
<rect x="916" y="411" width="3" height="49" fill="#fff" />
<rect x="925" y="393" width="1" height="31" fill="#000" />
<rect x="923" y="410" width="5" height="11" fill="#000" />
<rect x="933" y="410" width="1" height="5" fill="#000" />
<rect x="931" y="411" width="5" height="3" fill="#000" />
<rect x="932" y="412" width="3" height="1" fill="#fff" />
<rect x="941" y="406" width="1" height="24" fill="#000" />
<rect x="939" y="410" width="5" height="13" fill="#000" />
<rect x="949" y="404" width="1" height="25" fill="#000" />
<rect x="947" y="421" width="5" height="1" fill="#000" />
<rect x="957" y="384" width="1" height="69" fill="#000" />
<rect x="955" y="384" width="5" height="38" fill="#000" />
<rect x="956" y="385" width="3" height="36" fill="#fff" />
<rect x="965" y="318" width="1" height="80" fill="#000" />
<rect x="963" y="336" width="5" height="49" fill="#000" />
<rect x="964" y="337" width="3" height="47" fill="#fff" />
<rect x="973" y="329" width="1" height="21" fill="#000" />
<rect x="971" y="337" width="5" height="8" fill="#000" />
<rect x="981" y="330" width="1" height="18" fill="#000" />
<rect x="979" y="335" width="5" height="9" fill="#000" />
<rect x="980" y="336" width="3" height="7" fill="#fff" />
<rect x="989" y="331" width="1" height="22" fill="#000" />
<rect x="987" y="335" width="5" height="8" fill="#000" />
<rect x="997" y="315" width="1" height="28" fill="#000" />
<rect x="995" y="332" width="5" height="11" fill="#000" />
<rect x="996" y="333" width="3" height="9" fill="#fff" />
<rect x="1005" y="289" width="1" height="54" fill="#000" />
<rect x="1003" y="328" width="5" height="5" fill="#000" />
<rect x="1004" y="329" width="3" height="3" fill="#fff" />
<rect x="1013" y="323" width="1" height="48" fill="#000" />
<rect x="1011" y="328" width="5" height="21" fill="#000" />
<rect x="1021" y="330" width="1" height="47" fill="#000" />
<rect x="1019" y="336" width="5" height="14" fill="#000" />
<rect x="1020" y="337" width="3" height="12" fill="#fff" />
<rect x="1029" y="330" width="1" height="15" fill="#000" />
<rect x="1027" y="338" width="5" height="1" fill="#000" />
<rect x="1037" y="333" width="1" height="21" fill="#000" />
<rect x="1035" y="338" width="5" height="5" fill="#000" />
<rect x="1045" y="334" width="1" height="23" fill="#000" />
<rect x="1043" y="341" width="5" height="6" fill="#000" />
<rect x="1053" y="340" width="1" height="61" fill="#000" />
<rect x="1051" y="345" width="5" height="46" fill="#000" />
<rect x="1061" y="360" width="1" height="75" fill="#000" />
<rect x="1059" y="390" width="5" height="37" fill="#000" />
<rect x="1069" y="401" width="1" height="90" fill="#000" />
<rect x="1067" y="426" width="5" height="64" fill="#000" />
<rect x="1077" y="488" width="1" height="15" fill="#000" />
<rect x="1075" y="490" width="5" height="1" fill="#000" />
<rect x="1085" y="482" width="1" height="30" fill="#000" />
<rect x="1083" y="491" width="5" height="6" fill="#000" />
<rect x="1093" y="469" width="1" height="49" fill="#000" />
<rect x="1091" y="496" width="5" height="17" fill="#000" />
<rect x="1101" y="492" width="1" height="49" fill="#000" />
<rect x="1099" y="505" width="5" height="7" fill="#000" />
<rect x="1100" y="506" width="3" height="5" fill="#fff" />
<rect x="1109" y="486" width="1" height="36" fill="#000" />
<rect x="1107" y="505" width="5" height="8" fill="#000" />
<rect x="1117" y="507" width="1" height="39" fill="#000" />
<rect x="1115" y="511" width="5" height="33" fill="#000" />
<rect x="1125" y="535" width="1" height="13" fill="#000" />
<rect x="1123" y="540" width="5" height="1" fill="#000" />
<rect x="1133" y="532" width="1" height="20" fill="#000" />
<rect x="1131" y="538" width="5" height="8" fill="#000" />
<rect x="1141" y="515" width="1" height="32" fill="#000" />
<rect x="1139" y="515" width="5" height="31" fill="#000" />
<rect x="1140" y="516" width="3" height="29" fill="#fff" />
<rect x="1149" y="491" width="1" height="37" fill="#000" />
<rect x="1147" y="511" width="5" height="5" fill="#000" />
<rect x="1148" y="512" width="3" height="3" fill="#fff" />
<rect x="1157" y="477" width="1" height="49" fill="#000" />
<rect x="1155" y="510" width="5" height="1" fill="#000" />
<rect x="1165" y="476" width="1" height="37" fill="#000" />
<rect x="1163" y="488" width="5" height="22" fill="#000" />
<rect x="1164" y="489" width="3" height="20" fill="#fff" />
<rect x="1173" y="483" width="1" height="7" fill="#000" />
<rect x="1171" y="487" width="5" height="3" fill="#000" />
<rect x="1172" y="488" width="3" height="1" fill="#fff" />
<rect x="1181" y="463" width="1" height="29" fill="#000" />
<rect x="1179" y="474" width="5" height="14" fill="#000" />
<rect x="1180" y="475" width="3" height="12" fill="#fff" />
<rect x="1189" y="462" width="1" height="20" fill="#000" />
<rect x="1187" y="474" width="5" height="4" fill="#000" />
<rect x="1197" y="458" width="1" height="44" fill="#000" />
<rect x="1195" y="462" width="5" height="16" fill="#000" />
<rect x="1196" y="463" width="3" height="14" fill="#fff" />
<rect x="1205" y="452" width="1" height="31" fill="#000" />
<rect x="1203" y="461" width="5" height="12" fill="#000" />
<rect x="1213" y="458" width="1" height="30" fill="#000" />
<rect x="1211" y="471" width="5" height="5" fill="#000" />
<rect x="1221" y="471" width="1" height="29" fill="#000" />
<rect x="1219" y="475" width="5" height="20" fill="#000" />
<rect x="1229" y="463" width="1" height="31" fill="#000" />
<rect x="1227" y="469" width="5" height="25" fill="#000" />
<rect x="1228" y="470" width="3" height="23" fill="#fff" />
<rect x="1237" y="437" width="1" height="50" fill="#000" />
<rect x="1235" y="437" width="5" height="33" fill="#000" />
<rect x="1236" y="438" width="3" height="31" fill="#fff" />
<rect x="1245" y="428" width="1" height="43" fill="#000" />
<rect x="1243" y="437" width="5" height="20" fill="#000" />
<rect x="1253" y="438" width="1" height="52" fill="#000" />
<rect x="1251" y="454" width="5" height="29" fill="#000" />
<rect x="1261" y="458" width="1" height="28" fill="#000" />
<rect x="1259" y="473" width="5" height="9" fill="#000" />
<rect x="1260" y="474" width="3" height="7" fill="#fff" />
<rect x="1269" y="471" width="1" height="13" fill="#000" />
<rect x="1267" y="473" width="5" height="6" fill="#000" />
<rect x="1277" y="465" width="1" height="43" fill="#000" />
<rect x="1275" y="477" width="5" height="13" fill="#000" />
<rect x="1285" y="427" width="1" height="67" fill="#000" />
<rect x="1283" y="455" width="5" height="34" fill="#000" />
<rect x="1284" y="456" width="3" height="32" fill="#fff" />
<rect x="1293" y="445" width="1" height="42" fill="#000" />
<rect x="1291" y="448" width="5" height="8" fill="#000" />
<rect x="1292" y="449" width="3" height="6" fill="#fff" />
<rect x="1301" y="409" width="1" height="41" fill="#000" />
<rect x="1299" y="436" width="5" height="13" fill="#000" />
<rect x="1300" y="437" width="3" height="11" fill="#fff" />
<rect x="1309" y="404" width="1" height="40" fill="#000" />
<rect x="1307" y="415" width="5" height="24" fill="#000" />
<rect x="1308" y="416" width="3" height="22" fill="#fff" />
<rect x="1317" y="405" width="1" height="24" fill="#000" />
<rect x="1315" y="413" width="5" height="4" fill="#000" />
<rect x="1316" y="414" width="3" height="2" fill="#fff" />
<rect x="1325" y="396" width="1" height="22" fill="#000" />
<rect x="1323" y="409" width="5" height="4" fill="#000" />
<rect x="1324" y="410" width="3" height="2" fill="#fff" />
<rect x="1333" y="386" width="1" height="33" fill="#000" />
<rect x="1331" y="390" width="5" height="20" fill="#000" />
<rect x="1332" y="391" width="3" height="18" fill="#fff" />
<rect x="1341" y="387" width="1" height="31" fill="#000" />
<rect x="1339" y="390" width="5" height="25" fill="#000" />
<rect x="1349" y="409" width="1" height="30" fill="#000" />
<rect x="1347" y="413" width="5" height="12" fill="#000" />
<rect x="1357" y="395" width="1" height="37" fill="#000" />
<rect x="1355" y="404" width="5" height="21" fill="#000" />
<rect x="1356" y="405" width="3" height="19" fill="#fff" />
<rect x="1365" y="396" width="1" height="25" fill="#000" />
<rect x="1363" y="401" width="5" height="4" fill="#000" />
<rect x="1364" y="402" width="3" height="2" fill="#fff" />
<rect x="1373" y="401" width="1" height="19" fill="#000" />
<rect x="1371" y="402" width="5" height="15" fill="#000" />
<rect x="1381" y="390" width="1" height="32" fill="#000" />
<rect x="1379" y="410" width="5" height="6" fill="#000" />
<rect x="1380" y="411" width="3" height="4" fill="#fff" />
<rect x="1389" y="403" width="1" height="92" fill="#000" />
<rect x="1387" y="409" width="5" height="45" fill="#000" />
<rect x="1397" y="428" width="1" height="62" fill="#000" />
<rect x="1395" y="441" width="5" height="11" fill="#000" />
<rect x="1396" y="442" width="3" height="9" fill="#fff" />
<rect x="1405" y="426" width="1" height="34" fill="#000" />
<rect x="1403" y="441" width="5" height="16" fill="#000" />
<rect x="1413" y="457" width="1" height="17" fill="#000" />
<rect x="1411" y="457" width="5" height="16" fill="#000" />
<rect x="1421" y="453" width="1" height="24" fill="#000" />
<rect x="1419" y="467" width="5" height="3" fill="#000" />
<rect x="1420" y="468" width="3" height="1" fill="#fff" />
<rect x="1429" y="452" width="1" height="23" fill="#000" />
<rect x="1427" y="467" width="5" height="8" fill="#000" />
<rect x="1437" y="454" width="1" height="30" fill="#000" />
<rect x="1435" y="460" width="5" height="15" fill="#000" />
<rect x="1436" y="461" width="3" height="13" fill="#fff" />
<rect x="1445" y="452" width="1" height="63" fill="#000" />
<rect x="1443" y="460" width="5" height="44" fill="#000" />
<rect x="1453" y="481" width="1" height="39" fill="#000" />
<rect x="1451" y="503" width="5" height="17" fill="#000" />
<rect x="1461" y="504" width="1" height="16" fill="#000" />
<rect x="1459" y="512" width="5" height="7" fill="#000" />
<rect x="1460" y="513" width="3" height="5" fill="#fff" />
</g>
<g shape-rendering="crispEdges">
<rect x="-2.5" y="441.5" width="4" height="4" fill="#fff" stroke="#ff0000" stroke-width="1"/>
<rect x="1651.5" y="441.5" width="4" height="4" fill="#fff" stroke="#ff0000" stroke-width="1"/>
<rect x="-2.5" y="468.5" width="4" height="4" fill="#fff" stroke="#ff4500" stroke-width="1"/>
<rect x="1651.5" y="468.5" width="4" height="4" fill="#fff" stroke="#ff4500" stroke-width="1"/>
<rect x="-2.5" y="493.5" width="4" height="4" fill="#fff" stroke="#32cd32" stroke-width="1"/>
<rect x="1651.5" y="493.5" width="4" height="4" fill="#fff" stroke="#32cd32" stroke-width="1"/>
<rect x="-2.5" y="532.5" width="4" height="4" fill="#fff" stroke="#0000ff" stroke-width="1"/>
<rect x="1651.5" y="532.5" width="4" height="4" fill="#fff" stroke="#0000ff" stroke-width="1"/>
<rect x="-2.5" y="559.5" width="4" height="4" fill="#fff" stroke="#0000ff" stroke-width="1"/>
<rect x="1651.5" y="559.5" width="4" height="4" fill="#fff" stroke="#0000ff" stroke-width="1"/>
</g>
<rect x="1380" y="494" width="142" height="5" fill="#00ff00" />
<rect x="838.5" y="470.5" width="61" height="18" fill="#fff" stroke="#ff0000" stroke-width="1" shape-rendering="crispEdges"/>
<polyline points="899.5,479.5 909.5,479.5" fill="none" stroke="#ff0000" stroke-width="1" shape-rendering="crispEdges"/>
<text x="841" y="485.8" font-size="15.8" fill="#ff0000" text-anchor="start" font-weight="normal" textLength="57" lengthAdjust="spacingAndGlyphs" >1.34224</text>
<rect x="1062.5" y="542.5" width="61" height="18" fill="#fff" stroke="#ff0000" stroke-width="1" shape-rendering="crispEdges"/>
<polyline points="1123.5,551.5 1133.5,551.5 1133.5,545.0" fill="none" stroke="#ff0000" stroke-width="1" shape-rendering="crispEdges"/>
<text x="1065" y="557.8" font-size="15.8" fill="#ff0000" text-anchor="start" font-weight="normal" textLength="57" lengthAdjust="spacingAndGlyphs" >1.33526</text>
<rect x="1262.5" y="375.5" width="61" height="18" fill="#fff" stroke="#ff0000" stroke-width="1" shape-rendering="crispEdges"/>
<polyline points="1323.5,384.5 1333.5,384.5 1333.5,386.0" fill="none" stroke="#ff0000" stroke-width="1" shape-rendering="crispEdges"/>
<text x="1265" y="390.8" font-size="15.8" fill="#ff0000" text-anchor="start" font-weight="normal" textLength="57" lengthAdjust="spacingAndGlyphs" >1.35146</text>
<rect x="1304.5" y="483.5" width="73" height="24" fill="#fff" stroke="#ff0000" stroke-width="1" shape-rendering="crispEdges"/>
<polyline points="1293.0,495.5 1304.0,495.5" fill="none" stroke="#ff0000" stroke-width="1" shape-rendering="crispEdges"/>
<text x="1307" y="504.8" font-size="22" fill="#ff0000" text-anchor="start" font-weight="normal" textLength="68" lengthAdjust="spacingAndGlyphs" ></text>
<text x="1306.5" y="504.2" font-size="22.6" fill="#ff0000" stroke="#ff0000" stroke-width="0.45" textLength="69.5" lengthAdjust="spacingAndGlyphs">1.34069</text>
<rect x="1301.5" y="493.5" width="3" height="3" fill="#fff" stroke="#ff0000" stroke-width="1" shape-rendering="crispEdges"/>
<rect x="1390.5" y="511.5" width="61" height="18" fill="#fff" stroke="#ff0000" stroke-width="1" shape-rendering="crispEdges"/>
<polyline points="1451.5,519.5 1458.0,519.5" fill="none" stroke="#ff0000" stroke-width="1" shape-rendering="crispEdges"/>
<text x="1393" y="526.8" font-size="15.8" fill="#ff0000" text-anchor="start" font-weight="normal" textLength="57" lengthAdjust="spacingAndGlyphs" >1.33827</text>
<line x1="1332.5" y1="390" x2="1461.3374567785233" y2="516.8783064582129" stroke="#ff0000" stroke-width="3.4"/>
<polygon points="1470.6,526 1457.4782787416134,520.7970747442222 1465.1966348154333,512.9595381722037" fill="#ff0000"/>
</g>
<rect x="1658" y="437" width="41" height="11" fill="#ff0000" />
<text x="1662" y="446" font-size="9.6" fill="#fff" text-anchor="start" font-weight="normal" textLength="33" lengthAdjust="spacingAndGlyphs" >1.34574</text>
<rect x="1658" y="464" width="41" height="11" fill="#ff4500" />
<text x="1662" y="473" font-size="9.6" fill="#fff" text-anchor="start" font-weight="normal" textLength="33" lengthAdjust="spacingAndGlyphs" >1.34312</text>
<rect x="1658" y="489" width="41" height="11" fill="#32cd32" />
<text x="1662" y="498" font-size="9.6" fill="#fff" text-anchor="start" font-weight="normal" textLength="33" lengthAdjust="spacingAndGlyphs" >1.34069</text>
<rect x="1658" y="506" width="41" height="11" fill="#000000" />
<text x="1662" y="515" font-size="9.6" fill="#fff" text-anchor="start" font-weight="normal" textLength="33" lengthAdjust="spacingAndGlyphs" >1.33908</text>
<rect x="1658" y="528" width="41" height="11" fill="#0000ff" />
<text x="1662" y="537" font-size="9.6" fill="#fff" text-anchor="start" font-weight="normal" textLength="33" lengthAdjust="spacingAndGlyphs" >1.33691</text>
<rect x="1658" y="555" width="41" height="11" fill="#0000ff" />
<text x="1662" y="564" font-size="9.6" fill="#fff" text-anchor="start" font-weight="normal" textLength="33" lengthAdjust="spacingAndGlyphs" >1.33429</text>
<rect x="1657" y="443" width="3" height="1" fill="#000" />
<rect x="1657" y="470" width="3" height="1" fill="#000" />
<rect x="1657" y="495" width="3" height="1" fill="#000" />
<rect x="1657" y="534" width="3" height="1" fill="#000" />
<rect x="1657" y="561" width="3" height="1" fill="#000" />
<g clip-path="url(#cmacd)" shape-rendering="crispEdges">
<rect x="5" y="629" width="1" height="27" fill="#c0c0c0" />
<rect x="13" y="636" width="1" height="20" fill="#c0c0c0" />
<rect x="21" y="642" width="1" height="14" fill="#c0c0c0" />
<rect x="29" y="646" width="1" height="10" fill="#c0c0c0" />
<rect x="37" y="651" width="1" height="5" fill="#c0c0c0" />
<rect x="45" y="648" width="1" height="8" fill="#c0c0c0" />
<rect x="53" y="650" width="1" height="6" fill="#c0c0c0" />
<rect x="61" y="653" width="1" height="3" fill="#c0c0c0" />
<rect x="69" y="655" width="1" height="1" fill="#c0c0c0" />
<rect x="85" y="653" width="1" height="3" fill="#c0c0c0" />
<rect x="93" y="649" width="1" height="7" fill="#c0c0c0" />
<rect x="101" y="645" width="1" height="11" fill="#c0c0c0" />
<rect x="109" y="638" width="1" height="18" fill="#c0c0c0" />
<rect x="117" y="631" width="1" height="25" fill="#c0c0c0" />
<rect x="125" y="626" width="1" height="30" fill="#c0c0c0" />
<rect x="133" y="618" width="1" height="38" fill="#c0c0c0" />
<rect x="141" y="608" width="1" height="48" fill="#c0c0c0" />
<rect x="149" y="607" width="1" height="49" fill="#c0c0c0" />
<rect x="157" y="609" width="1" height="47" fill="#c0c0c0" />
<rect x="165" y="611" width="1" height="45" fill="#c0c0c0" />
<rect x="173" y="611" width="1" height="45" fill="#c0c0c0" />
<rect x="181" y="605" width="1" height="51" fill="#c0c0c0" />
<rect x="189" y="596" width="1" height="60" fill="#c0c0c0" />
<rect x="197" y="589" width="1" height="67" fill="#c0c0c0" />
<rect x="205" y="585" width="1" height="71" fill="#c0c0c0" />
<rect x="213" y="581" width="1" height="75" fill="#c0c0c0" />
<rect x="221" y="584" width="1" height="72" fill="#c0c0c0" />
<rect x="229" y="584" width="1" height="72" fill="#c0c0c0" />
<rect x="237" y="587" width="1" height="69" fill="#c0c0c0" />
<rect x="245" y="591" width="1" height="65" fill="#c0c0c0" />
<rect x="253" y="595" width="1" height="61" fill="#c0c0c0" />
<rect x="261" y="597" width="1" height="59" fill="#c0c0c0" />
<rect x="269" y="595" width="1" height="61" fill="#c0c0c0" />
<rect x="277" y="591" width="1" height="65" fill="#c0c0c0" />
<rect x="285" y="582" width="1" height="74" fill="#c0c0c0" />
<rect x="293" y="578" width="1" height="78" fill="#c0c0c0" />
<rect x="301" y="579" width="1" height="77" fill="#c0c0c0" />
<rect x="309" y="580" width="1" height="76" fill="#c0c0c0" />
<rect x="317" y="579" width="1" height="77" fill="#c0c0c0" />
<rect x="325" y="585" width="1" height="71" fill="#c0c0c0" />
<rect x="333" y="596" width="1" height="60" fill="#c0c0c0" />
<rect x="341" y="592" width="1" height="64" fill="#c0c0c0" />
<rect x="349" y="589" width="1" height="67" fill="#c0c0c0" />
<rect x="357" y="588" width="1" height="68" fill="#c0c0c0" />
<rect x="365" y="586" width="1" height="70" fill="#c0c0c0" />
<rect x="373" y="588" width="1" height="68" fill="#c0c0c0" />
<rect x="381" y="591" width="1" height="65" fill="#c0c0c0" />
<rect x="389" y="594" width="1" height="62" fill="#c0c0c0" />
<rect x="397" y="601" width="1" height="55" fill="#c0c0c0" />
<rect x="405" y="607" width="1" height="49" fill="#c0c0c0" />
<rect x="413" y="611" width="1" height="45" fill="#c0c0c0" />
<rect x="421" y="618" width="1" height="38" fill="#c0c0c0" />
<rect x="429" y="623" width="1" height="33" fill="#c0c0c0" />
<rect x="437" y="634" width="1" height="22" fill="#c0c0c0" />
<rect x="445" y="640" width="1" height="16" fill="#c0c0c0" />
<rect x="453" y="645" width="1" height="11" fill="#c0c0c0" />
<rect x="461" y="645" width="1" height="11" fill="#c0c0c0" />
<rect x="469" y="644" width="1" height="12" fill="#c0c0c0" />
<rect x="477" y="650" width="1" height="6" fill="#c0c0c0" />
<rect x="485" y="651" width="1" height="5" fill="#c0c0c0" />
<rect x="493" y="653" width="1" height="3" fill="#c0c0c0" />
<rect x="501" y="655" width="1" height="1" fill="#c0c0c0" />
<rect x="525" y="650" width="1" height="6" fill="#c0c0c0" />
<rect x="533" y="651" width="1" height="5" fill="#c0c0c0" />
<rect x="541" y="653" width="1" height="3" fill="#c0c0c0" />
<rect x="565" y="656" width="1" height="3" fill="#c0c0c0" />
<rect x="573" y="656" width="1" height="9" fill="#c0c0c0" />
<rect x="581" y="656" width="1" height="11" fill="#c0c0c0" />
<rect x="589" y="656" width="1" height="15" fill="#c0c0c0" />
<rect x="597" y="656" width="1" height="18" fill="#c0c0c0" />
<rect x="605" y="656" width="1" height="18" fill="#c0c0c0" />
<rect x="613" y="656" width="1" height="15" fill="#c0c0c0" />
<rect x="621" y="656" width="1" height="15" fill="#c0c0c0" />
<rect x="629" y="656" width="1" height="4" fill="#c0c0c0" />
<rect x="645" y="650" width="1" height="6" fill="#c0c0c0" />
<rect x="653" y="646" width="1" height="10" fill="#c0c0c0" />
<rect x="661" y="644" width="1" height="12" fill="#c0c0c0" />
<rect x="669" y="643" width="1" height="13" fill="#c0c0c0" />
<rect x="677" y="656" width="1" height="3" fill="#c0c0c0" />
<rect x="685" y="656" width="1" height="15" fill="#c0c0c0" />
<rect x="693" y="656" width="1" height="25" fill="#c0c0c0" />
<rect x="701" y="656" width="1" height="34" fill="#c0c0c0" />
<rect x="709" y="656" width="1" height="45" fill="#c0c0c0" />
<rect x="717" y="656" width="1" height="49" fill="#c0c0c0" />
<rect x="725" y="656" width="1" height="51" fill="#c0c0c0" />
<rect x="733" y="656" width="1" height="55" fill="#c0c0c0" />
<rect x="741" y="656" width="1" height="58" fill="#c0c0c0" />
<rect x="749" y="656" width="1" height="61" fill="#c0c0c0" />
<rect x="757" y="656" width="1" height="61" fill="#c0c0c0" />
<rect x="765" y="656" width="1" height="61" fill="#c0c0c0" />
<rect x="773" y="656" width="1" height="69" fill="#c0c0c0" />
<rect x="781" y="656" width="1" height="72" fill="#c0c0c0" />
<rect x="789" y="656" width="1" height="74" fill="#c0c0c0" />
<rect x="797" y="656" width="1" height="72" fill="#c0c0c0" />
<rect x="805" y="656" width="1" height="71" fill="#c0c0c0" />
<rect x="813" y="656" width="1" height="65" fill="#c0c0c0" />
<rect x="821" y="656" width="1" height="58" fill="#c0c0c0" />
<rect x="829" y="656" width="1" height="48" fill="#c0c0c0" />
<rect x="837" y="656" width="1" height="37" fill="#c0c0c0" />
<rect x="845" y="656" width="1" height="34" fill="#c0c0c0" />
<rect x="853" y="656" width="1" height="32" fill="#c0c0c0" />
<rect x="861" y="656" width="1" height="33" fill="#c0c0c0" />
<rect x="869" y="656" width="1" height="58" fill="#c0c0c0" />
<rect x="877" y="656" width="1" height="75" fill="#c0c0c0" />
<rect x="885" y="656" width="1" height="87" fill="#c0c0c0" />
<rect x="893" y="656" width="1" height="97" fill="#c0c0c0" />
<rect x="901" y="656" width="1" height="102" fill="#c0c0c0" />
<rect x="909" y="656" width="1" height="116" fill="#c0c0c0" />
<rect x="917" y="656" width="1" height="117" fill="#c0c0c0" />
<rect x="925" y="656" width="1" height="119" fill="#c0c0c0" />
<rect x="933" y="656" width="1" height="117" fill="#c0c0c0" />
<rect x="941" y="656" width="1" height="116" fill="#c0c0c0" />
<rect x="949" y="656" width="1" height="112" fill="#c0c0c0" />
<rect x="957" y="656" width="1" height="104" fill="#c0c0c0" />
<rect x="965" y="656" width="1" height="88" fill="#c0c0c0" />
<rect x="973" y="656" width="1" height="76" fill="#c0c0c0" />
<rect x="981" y="656" width="1" height="64" fill="#c0c0c0" />
<rect x="989" y="656" width="1" height="54" fill="#c0c0c0" />
<rect x="997" y="656" width="1" height="45" fill="#c0c0c0" />
<rect x="1005" y="656" width="1" height="37" fill="#c0c0c0" />
<rect x="1013" y="656" width="1" height="33" fill="#c0c0c0" />
<rect x="1021" y="656" width="1" height="27" fill="#c0c0c0" />
<rect x="1029" y="656" width="1" height="23" fill="#c0c0c0" />
<rect x="1037" y="656" width="1" height="20" fill="#c0c0c0" />
<rect x="1045" y="656" width="1" height="18" fill="#c0c0c0" />
<rect x="1053" y="656" width="1" height="24" fill="#c0c0c0" />
<rect x="1061" y="656" width="1" height="33" fill="#c0c0c0" />
<rect x="1069" y="656" width="1" height="52" fill="#c0c0c0" />
<rect x="1077" y="656" width="1" height="65" fill="#c0c0c0" />
<rect x="1085" y="656" width="1" height="76" fill="#c0c0c0" />
<rect x="1093" y="656" width="1" height="86" fill="#c0c0c0" />
<rect x="1101" y="656" width="1" height="92" fill="#c0c0c0" />
<rect x="1109" y="656" width="1" height="97" fill="#c0c0c0" />
<rect x="1117" y="656" width="1" height="104" fill="#c0c0c0" />
<rect x="1125" y="656" width="1" height="108" fill="#c0c0c0" />
<rect x="1133" y="656" width="1" height="111" fill="#c0c0c0" />
<rect x="1141" y="656" width="1" height="107" fill="#c0c0c0" />
<rect x="1149" y="656" width="1" height="102" fill="#c0c0c0" />
<rect x="1157" y="656" width="1" height="97" fill="#c0c0c0" />
<rect x="1165" y="656" width="1" height="88" fill="#c0c0c0" />
<rect x="1173" y="656" width="1" height="80" fill="#c0c0c0" />
<rect x="1181" y="656" width="1" height="71" fill="#c0c0c0" />
<rect x="1189" y="656" width="1" height="63" fill="#c0c0c0" />
<rect x="1197" y="656" width="1" height="54" fill="#c0c0c0" />
<rect x="1205" y="656" width="1" height="48" fill="#c0c0c0" />
<rect x="1213" y="656" width="1" height="43" fill="#c0c0c0" />
<rect x="1221" y="656" width="1" height="40" fill="#c0c0c0" />
<rect x="1229" y="656" width="1" height="36" fill="#c0c0c0" />
<rect x="1237" y="656" width="1" height="26" fill="#c0c0c0" />
<rect x="1245" y="656" width="1" height="21" fill="#c0c0c0" />
<rect x="1253" y="656" width="1" height="20" fill="#c0c0c0" />
<rect x="1261" y="656" width="1" height="19" fill="#c0c0c0" />
<rect x="1269" y="656" width="1" height="19" fill="#c0c0c0" />
<rect x="1277" y="656" width="1" height="19" fill="#c0c0c0" />
<rect x="1285" y="656" width="1" height="15" fill="#c0c0c0" />
<rect x="1293" y="656" width="1" height="9" fill="#c0c0c0" />
<rect x="1301" y="656" width="1" height="3" fill="#c0c0c0" />
<rect x="1309" y="652" width="1" height="4" fill="#c0c0c0" />
<rect x="1317" y="645" width="1" height="11" fill="#c0c0c0" />
<rect x="1325" y="639" width="1" height="17" fill="#c0c0c0" />
<rect x="1333" y="631" width="1" height="25" fill="#c0c0c0" />
<rect x="1341" y="630" width="1" height="26" fill="#c0c0c0" />
<rect x="1349" y="630" width="1" height="26" fill="#c0c0c0" />
<rect x="1357" y="628" width="1" height="28" fill="#c0c0c0" />
<rect x="1365" y="627" width="1" height="29" fill="#c0c0c0" />
<rect x="1373" y="628" width="1" height="28" fill="#c0c0c0" />
<rect x="1381" y="629" width="1" height="27" fill="#c0c0c0" />
<rect x="1389" y="634" width="1" height="22" fill="#c0c0c0" />
<rect x="1397" y="636" width="1" height="20" fill="#c0c0c0" />
<rect x="1405" y="641" width="1" height="15" fill="#c0c0c0" />
<rect x="1413" y="652" width="1" height="4" fill="#c0c0c0" />
<rect x="1421" y="655" width="1" height="1" fill="#c0c0c0" />
<rect x="1429" y="656" width="1" height="4" fill="#c0c0c0" />
<rect x="1437" y="656" width="1" height="2" fill="#c0c0c0" />
<rect x="1445" y="656" width="1" height="15" fill="#c0c0c0" />
<rect x="1453" y="656" width="1" height="24" fill="#c0c0c0" />
<rect x="1461" y="656" width="1" height="29" fill="#c0c0c0" />
</g>
<g clip-path="url(#cmacd)">
<polyline points="0.0,629.4 5.0,629.4 23.5,629.4 29.4,633.0 47.0,636.5 61.0,641.6 77.5,648.7 94.0,651.0 109.5,648.7 117.4,647.0 125.4,643.5 133.4,641.6 141.4,635.3 149.4,630.6 157.4,625.9 165.4,620.5 173.4,616.5 181.3,613.0 189.3,608.7 197.3,605.5 205.3,601.9 213.3,598.4 221.3,596.1 229.3,594.2 237.2,590.2 245.4,587.8 258.4,587.6 281.8,588.3 305.3,587.6 317.3,584.8 328.8,584.3 364.0,584.8 371.1,586.7 385.5,587.6 389.9,589.5 399.3,590.7 407.0,592.3 423.5,598.4 435.2,604.8 447.0,613.0 458.7,622.4 470.5,629.9 482.2,636.5 493.9,642.3 505.7,647.0 517.4,649.4 540.9,651.7 564.4,654.1 587.9,657.6 604.3,664.6 623.1,667.5 634.9,668.2 646.6,666.5 658.4,661.1 670.1,656.4 693.6,655.7 705.4,661.1 717.1,671.2 728.8,681.1 740.6,692.8 752.3,702.2 764.1,709.3 775.8,714.0 787.6,718.7 799.3,721.0 814.1,724.5 830.5,722.2 847.0,712.8 868.1,704.6 882.2,706.9 894.0,711.6 905.7,722.2 917.4,733.9 929.2,748.0 940.9,760.9 952.7,766.8 971.5,764.5 987.9,751.6 999.6,739.8 1011.4,726.9 1023.1,714.0 1034.9,701.8 1046.7,693.4 1058.4,686.8 1070.1,686.8 1081.9,691.6 1093.6,701.1 1105.3,712.8 1117.1,725.7 1128.8,739.8 1140.6,750.4 1152.3,755.1 1164.1,757.4 1175.8,755.1 1187.5,748.0 1199.3,741.0 1211.7,730.4 1223.5,721.0 1235.2,709.3 1247.0,699.9 1258.7,691.6 1270.5,686.2 1282.2,681.1 1294.0,676.4 1305.7,671.2 1317.4,666.5 1329.2,659.9 1340.9,652.9 1352.7,645.9 1364.4,638.8 1376.2,631.8 1387.9,629.4 1399.6,628.9 1411.4,631.8 1423.1,636.5 1434.9,642.3 1446.6,649.4 1458.4,658.8 1461.4,661.1" fill="none" stroke="#ff0000" stroke-width="1" stroke-dasharray="3,3" shape-rendering="crispEdges"/>
<line x1="1366.8" y1="621.2" x2="1454.5965956664716" y2="669.2580155714658" stroke="#ff0000" stroke-width="3.4"/>
<polygon points="1466,675.5 1451.9557561005531,674.082532789497 1457.23743523239,664.4334983534345" fill="#ff0000"/>
</g>
<text x="2" y="579" font-size="9.8" fill="#000" text-anchor="start" font-weight="normal" textLength="153" lengthAdjust="spacingAndGlyphs" >MACD(12,26,9) -0.001448 -0.000287</text>
<text x="1660" y="577" font-size="9.6" fill="#000" text-anchor="start" font-weight="normal" textLength="37" lengthAdjust="spacingAndGlyphs" >0.004128</text>
<text x="1660" y="659" font-size="9.6" fill="#000" text-anchor="start" font-weight="normal" textLength="18" lengthAdjust="spacingAndGlyphs" >0.00</text>
<text x="1659" y="782" font-size="9.6" fill="#000" text-anchor="start" font-weight="normal" textLength="42" lengthAdjust="spacingAndGlyphs" >-0.006132</text>
<rect x="1657" y="655" width="3" height="1" fill="#000" />
<g clip-path="url(#crsi)">
<g shape-rendering="crispEdges">
<line x1="-2" y1="817.5" x2="1656" y2="817.5" stroke="#c0c0c0" stroke-width="1" stroke-dasharray="3,3"/>
<line x1="-2" y1="859.5" x2="1656" y2="859.5" stroke="#c0c0c0" stroke-width="1" stroke-dasharray="3,3"/>
<line x1="-2" y1="908.5" x2="1656" y2="908.5" stroke="#c0c0c0" stroke-width="1" stroke-dasharray="3,3"/>
</g>
<polyline points="0.0,852.5 5.0,853.4 13.0,866.3 21.0,864.7 29.0,862.3 37.0,866.3 45.0,852.5 53.0,860.0 61.0,863.5 69.0,868.2 77.0,856.0 85.0,854.6 93.0,854.6 101.0,847.1 109.0,843.1 117.0,841.7 125.0,841.4 133.0,834.2 141.0,830.2 149.0,844.3 157.0,848.2 165.0,849.4 173.0,845.4 181.0,838.1 189.0,831.8 197.0,830.2 205.0,833.4 213.0,831.3 221.0,842.8 229.0,839.6 237.0,844.3 245.0,847.5 253.0,846.6 261.0,845.4 269.0,837.2 277.0,834.2 285.0,826.6 293.0,833.7 301.0,839.6 309.0,839.6 317.0,836.0 325.0,848.9 333.0,858.3 341.0,841.7 349.0,840.5 357.0,841.7 365.0,840.7 373.0,845.2 381.0,846.4 389.0,847.5 397.0,855.3 405.0,853.6 413.0,852.5 421.0,858.1 429.0,857.2 437.0,868.9 445.0,864.7 453.0,863.5 461.0,856.5 469.0,854.6 477.0,865.4 485.0,859.3 493.0,861.2 501.0,862.3 509.0,861.2 517.0,859.5 525.0,847.5 533.0,860.5 541.0,862.3 549.0,861.2 557.0,860.5 565.0,868.2 573.0,871.3 581.0,870.1 589.0,870.1 597.0,872.4 605.0,865.9 613.0,859.5 621.0,863.0 629.0,845.9 637.0,850.1 645.0,847.5 653.0,849.4 661.0,851.3 669.0,851.3 677.0,882.3 685.0,880.7 693.0,882.3 701.0,882.3 709.0,888.2 717.0,878.3 725.0,877.1 733.0,881.1 741.0,882.3 749.0,883.0 757.0,879.5 765.0,882.3 773.0,890.5 781.0,888.6 789.0,888.6 797.0,880.4 805.0,883.0 813.0,868.2 821.0,866.3 829.0,858.1 837.0,854.6 845.0,864.2 853.0,865.9 861.0,871.0 869.0,895.7 877.0,892.4 885.0,891.7 893.0,892.9 901.0,890.5 909.0,897.6 917.0,883.5 925.0,884.6 933.0,881.6 941.0,883.5 949.0,882.3 957.0,871.7 965.0,860.5 973.0,861.6 981.0,859.5 989.0,861.2 997.0,858.3 1005.0,857.6 1013.0,863.0 1021.0,859.5 1029.0,860.5 1037.0,861.6 1045.0,862.3 1053.0,874.1 1061.0,882.3 1069.0,892.4 1077.0,892.9 1085.0,893.6 1093.0,895.2 1101.0,892.4 1109.0,893.6 1117.0,897.6 1125.0,897.6 1133.0,897.6 1141.0,884.2 1149.0,882.3 1157.0,882.3 1165.0,873.6 1173.0,872.2 1181.0,867.7 1189.0,867.5 1197.0,861.6 1205.0,865.4 1213.0,866.3 1221.0,872.9 1229.0,862.3 1237.0,851.8 1245.0,857.6 1253.0,866.3 1261.0,863.0 1269.0,865.4 1277.0,868.2 1285.0,856.0 1293.0,853.6 1301.0,849.9 1309.0,844.7 1317.0,843.1 1325.0,841.9 1333.0,837.7 1341.0,846.6 1349.0,852.2 1357.0,846.6 1365.0,845.4 1373.0,850.6 1381.0,849.4 1389.0,865.4 1397.0,862.3 1405.0,865.9 1413.0,869.4 1421.0,869.4 1429.0,871.0 1437.0,865.9 1445.0,875.3 1453.0,881.8 1461.0,878.3" fill="none" stroke="#1e90ff" stroke-width="1" shape-rendering="crispEdges"/>
<line x1="1322.1" y1="837.2" x2="1443.1763863561246" y2="877.8613351480838" stroke="#ff0000" stroke-width="3.4"/>
<polygon points="1455.5,882 1441.4254127649292,883.0751716897233 1444.92735994732,872.6474986064442" fill="#ff0000"/>
</g>
<text x="2" y="800" font-size="9.8" fill="#000" text-anchor="start" font-weight="normal" textLength="67" lengthAdjust="spacingAndGlyphs" >RSI(14) 36.3498</text>
<text x="1661" y="798" font-size="9.6" fill="#000" text-anchor="start" font-weight="normal" textLength="15" lengthAdjust="spacingAndGlyphs" >100</text>
<text x="1661" y="821" font-size="9.6" fill="#000" text-anchor="start" font-weight="normal" textLength="10" lengthAdjust="spacingAndGlyphs" >80</text>
<text x="1661" y="863" font-size="9.6" fill="#000" text-anchor="start" font-weight="normal" textLength="10" lengthAdjust="spacingAndGlyphs" >50</text>
<text x="1661" y="912" font-size="9.6" fill="#000" text-anchor="start" font-weight="normal" textLength="10" lengthAdjust="spacingAndGlyphs" >15</text>
<text x="1661" y="927" font-size="9.6" fill="#000" text-anchor="start" font-weight="normal" textLength="5" lengthAdjust="spacingAndGlyphs" >0</text>
<rect x="1657" y="789" width="3" height="1" fill="#000" />
<rect x="1657" y="817" width="3" height="1" fill="#000" />
<rect x="1657" y="859" width="3" height="1" fill="#000" />
<rect x="1657" y="908" width="3" height="1" fill="#000" />
<text x="-5" y="943" font-size="9.8" fill="#000" text-anchor="start" font-weight="normal" textLength="52" lengthAdjust="spacingAndGlyphs" >11 Oct 2021</text>
<rect x="61" y="931" width="1" height="3" fill="#000" />
<text x="61" y="943" font-size="9.8" fill="#000" text-anchor="start" font-weight="normal" textLength="53" lengthAdjust="spacingAndGlyphs" >12 Oct 16:00</text>
<rect x="125" y="931" width="1" height="3" fill="#000" />
<text x="125" y="943" font-size="9.8" fill="#000" text-anchor="start" font-weight="normal" textLength="53" lengthAdjust="spacingAndGlyphs" >14 Oct 00:00</text>
<rect x="189" y="931" width="1" height="3" fill="#000" />
<text x="189" y="943" font-size="9.8" fill="#000" text-anchor="start" font-weight="normal" textLength="53" lengthAdjust="spacingAndGlyphs" >15 Oct 08:00</text>
<rect x="253" y="931" width="1" height="3" fill="#000" />
<text x="253" y="943" font-size="9.8" fill="#000" text-anchor="start" font-weight="normal" textLength="53" lengthAdjust="spacingAndGlyphs" >18 Oct 16:00</text>
<rect x="317" y="931" width="1" height="3" fill="#000" />
<text x="317" y="943" font-size="9.8" fill="#000" text-anchor="start" font-weight="normal" textLength="53" lengthAdjust="spacingAndGlyphs" >20 Oct 00:00</text>
<rect x="381" y="931" width="1" height="3" fill="#000" />
<text x="381" y="943" font-size="9.8" fill="#000" text-anchor="start" font-weight="normal" textLength="53" lengthAdjust="spacingAndGlyphs" >21 Oct 08:00</text>
<rect x="445" y="931" width="1" height="3" fill="#000" />
<text x="445" y="943" font-size="9.8" fill="#000" text-anchor="start" font-weight="normal" textLength="53" lengthAdjust="spacingAndGlyphs" >22 Oct 16:00</text>
<rect x="509" y="931" width="1" height="3" fill="#000" />
<text x="509" y="943" font-size="9.8" fill="#000" text-anchor="start" font-weight="normal" textLength="53" lengthAdjust="spacingAndGlyphs" >26 Oct 00:00</text>
<rect x="573" y="931" width="1" height="3" fill="#000" />
<text x="573" y="943" font-size="9.8" fill="#000" text-anchor="start" font-weight="normal" textLength="53" lengthAdjust="spacingAndGlyphs" >27 Oct 08:00</text>
<rect x="637" y="931" width="1" height="3" fill="#000" />
<text x="637" y="943" font-size="9.8" fill="#000" text-anchor="start" font-weight="normal" textLength="53" lengthAdjust="spacingAndGlyphs" >28 Oct 16:00</text>
<rect x="701" y="931" width="1" height="3" fill="#000" />
<text x="701" y="943" font-size="9.8" fill="#000" text-anchor="start" font-weight="normal" textLength="49" lengthAdjust="spacingAndGlyphs" >1 Nov 00:00</text>
<rect x="765" y="931" width="1" height="3" fill="#000" />
<text x="765" y="943" font-size="9.8" fill="#000" text-anchor="start" font-weight="normal" textLength="49" lengthAdjust="spacingAndGlyphs" >2 Nov 08:00</text>
<rect x="829" y="931" width="1" height="3" fill="#000" />
<text x="829" y="943" font-size="9.8" fill="#000" text-anchor="start" font-weight="normal" textLength="49" lengthAdjust="spacingAndGlyphs" >3 Nov 16:00</text>
<rect x="893" y="931" width="1" height="3" fill="#000" />
<text x="893" y="943" font-size="9.8" fill="#000" text-anchor="start" font-weight="normal" textLength="49" lengthAdjust="spacingAndGlyphs" >5 Nov 00:00</text>
<rect x="957" y="931" width="1" height="3" fill="#000" />
<text x="957" y="943" font-size="9.8" fill="#000" text-anchor="start" font-weight="normal" textLength="49" lengthAdjust="spacingAndGlyphs" >8 Nov 08:00</text>
<rect x="1021" y="931" width="1" height="3" fill="#000" />
<text x="1021" y="943" font-size="9.8" fill="#000" text-anchor="start" font-weight="normal" textLength="49" lengthAdjust="spacingAndGlyphs" >9 Nov 16:00</text>
<rect x="1085" y="931" width="1" height="3" fill="#000" />
<text x="1085" y="943" font-size="9.8" fill="#000" text-anchor="start" font-weight="normal" textLength="53" lengthAdjust="spacingAndGlyphs" >11 Nov 00:00</text>
<rect x="1149" y="931" width="1" height="3" fill="#000" />
<text x="1149" y="943" font-size="9.8" fill="#000" text-anchor="start" font-weight="normal" textLength="53" lengthAdjust="spacingAndGlyphs" >12 Nov 08:00</text>
<rect x="1213" y="931" width="1" height="3" fill="#000" />
<text x="1213" y="943" font-size="9.8" fill="#000" text-anchor="start" font-weight="normal" textLength="53" lengthAdjust="spacingAndGlyphs" >15 Nov 16:00</text>
<rect x="1277" y="931" width="1" height="3" fill="#000" />
<text x="1277" y="943" font-size="9.8" fill="#000" text-anchor="start" font-weight="normal" textLength="53" lengthAdjust="spacingAndGlyphs" >17 Nov 00:00</text>
<rect x="1341" y="931" width="1" height="3" fill="#000" />
<text x="1341" y="943" font-size="9.8" fill="#000" text-anchor="start" font-weight="normal" textLength="53" lengthAdjust="spacingAndGlyphs" >18 Nov 08:00</text>
<rect x="1405" y="931" width="1" height="3" fill="#000" />
<text x="1405" y="943" font-size="9.8" fill="#000" text-anchor="start" font-weight="normal" textLength="53" lengthAdjust="spacingAndGlyphs" >19 Nov 16:00</text>
<polygon points="1467.5,30 1477.5,30 1472.5,35" fill="#c0c0c0"/>
<polygon points="0,40 4,35 8,40" fill="#000"/>
<rect x="9.5" y="38.5" width="2" height="2" fill="none" stroke="#000" stroke-width="0.8"/>
<text x="12" y="41" font-size="9.8" fill="#000" text-anchor="start" font-weight="normal" textLength="204" lengthAdjust="spacingAndGlyphs" >GBPUSD-,H4&#160;&#160;1.33837 1.33982 1.33837 1.33908</text>
<defs>
<linearGradient id="gsell" x1="0" y1="0" x2="0" y2="1"><stop offset="0" stop-color="#fb5353"/><stop offset="1" stop-color="#d92323"/></linearGradient>
<linearGradient id="gprice" x1="0" y1="0" x2="0" y2="1"><stop offset="0" stop-color="#d92626"/><stop offset="1" stop-color="#b00606"/></linearGradient>
<linearGradient id="gbtn" x1="0" y1="0" x2="0" y2="1"><stop offset="0" stop-color="#f4f4f4"/><stop offset="1" stop-color="#d4d4d4"/></linearGradient>
</defs>
<rect x="0" y="49" width="52" height="25" fill="#b40000" />
<rect x="0" y="50" width="51" height="24" fill="url(#gsell)" />
<rect x="4" y="72" width="44" height="1" fill="#8a0000" />
<rect x="4" y="73" width="44" height="1" fill="#f08080" />
<text x="12" y="65" font-size="12" fill="#fff" text-anchor="start" font-weight="normal" textLength="26" lengthAdjust="spacingAndGlyphs" >SELL</text>
<rect x="167" y="49" width="52" height="25" fill="#b40000" />
<rect x="168" y="50" width="51" height="24" fill="url(#gsell)" />
<rect x="171" y="72" width="44" height="1" fill="#8a0000" />
<rect x="171" y="73" width="44" height="1" fill="#f08080" />
<text x="180" y="65" font-size="12" fill="#fff" text-anchor="start" font-weight="normal" textLength="23" lengthAdjust="spacingAndGlyphs" >BUY</text>
<rect x="54" y="49" width="111" height="23" fill="#a0a0a0" />
<rect x="55" y="50" width="109" height="21" fill="#ffffff" />
<rect x="55" y="50" width="20" height="21" fill="url(#gbtn)" />
<rect x="75" y="50" width="1" height="21" fill="#a0a0a0" />
<rect x="144" y="50" width="1" height="21" fill="#a0a0a0" />
<rect x="145" y="50" width="19" height="21" fill="url(#gbtn)" />
<polygon points="61,58 67,58 64,61" fill="#5060b0"/>
<polygon points="151,62 157,62 154,59" fill="#5060b0"/>
<text x="140" y="65" font-size="12" fill="#000" text-anchor="end" font-weight="normal" textLength="23" lengthAdjust="spacingAndGlyphs" >1.00</text>
<rect x="0" y="73" width="109" height="33" fill="url(#gprice)" />
<rect x="111" y="73" width="108" height="33" fill="url(#gprice)" />
<text x="20" y="100" font-size="11" fill="#fff" text-anchor="start" font-weight="bold" textLength="23" lengthAdjust="spacingAndGlyphs" >1.33</text>
<text x="47" y="101" font-size="32" fill="#fff" text-anchor="start" font-weight="normal" textLength="35" lengthAdjust="spacingAndGlyphs" >90</text>
<text x="87" y="85" font-size="11" fill="#fff" text-anchor="start" font-weight="bold" >8</text>
<text x="130" y="100" font-size="11" fill="#fff" text-anchor="start" font-weight="bold" textLength="23" lengthAdjust="spacingAndGlyphs" >1.33</text>
<text x="158" y="101" font-size="32" fill="#fff" text-anchor="start" font-weight="normal" textLength="35" lengthAdjust="spacingAndGlyphs" >93</text>
<text x="198" y="85" font-size="11" fill="#fff" text-anchor="start" font-weight="bold" >6</text>
</svg></body></html>
